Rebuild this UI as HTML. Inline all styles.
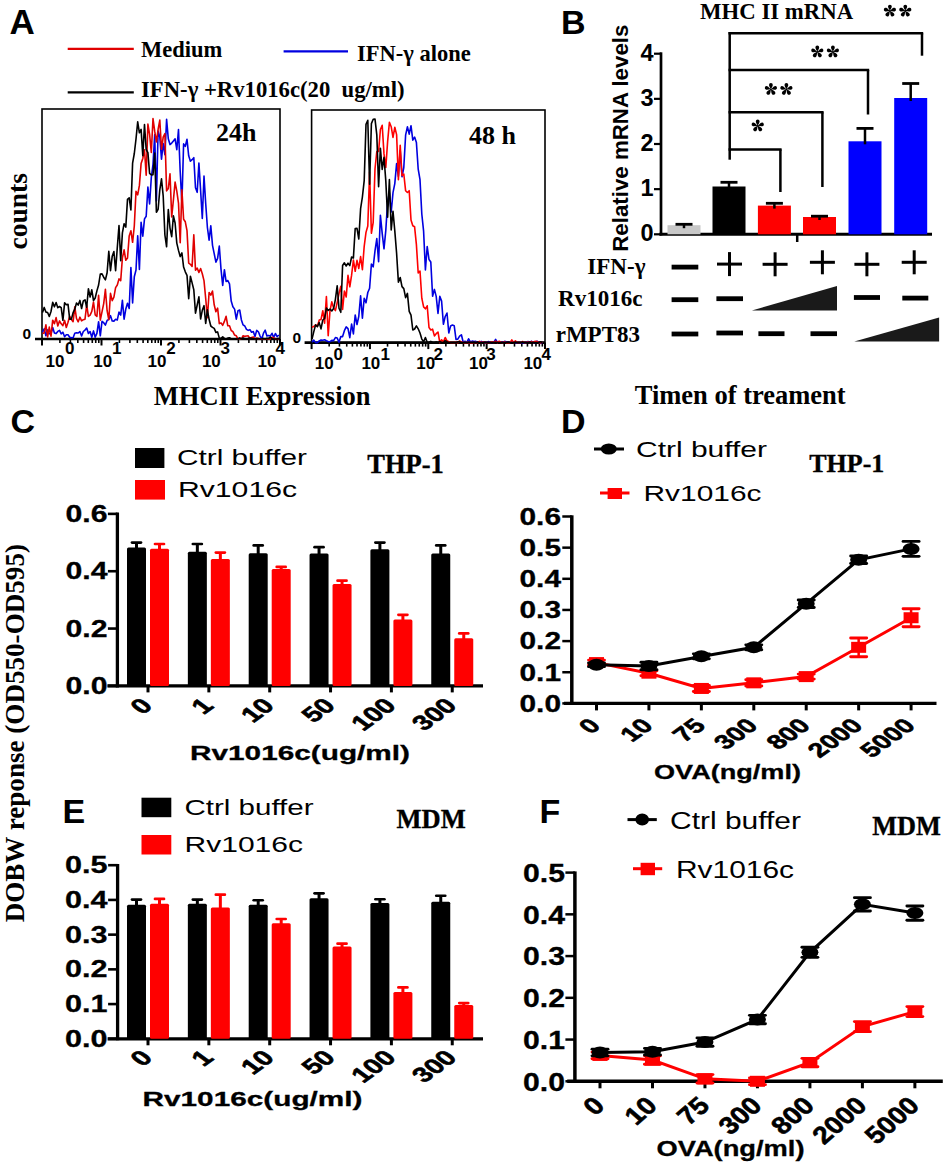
<!DOCTYPE html>
<html><head><meta charset="utf-8"><style>html,body{margin:0;padding:0;background:#fff;}svg{display:block;}</style></head>
<body><svg width="945" height="1168" viewBox="0 0 945 1168">
<rect width="945" height="1168" fill="#fff"/>
<text x="9.5" y="34" font-family="'Liberation Sans', sans-serif" font-size="35" font-weight="bold" text-anchor="start" fill="#000">A</text>
<line x1="67.7" y1="48.8" x2="133.8" y2="48.8" stroke="#e00000" stroke-width="2.2" stroke-linecap="butt"/>
<text x="141" y="56.7" font-family="'Liberation Serif', serif" font-size="22.5" font-weight="bold" text-anchor="start" fill="#000">Medium</text>
<line x1="283.6" y1="51.4" x2="348" y2="51.4" stroke="#0000e0" stroke-width="2.2" stroke-linecap="butt"/>
<text x="357" y="61" font-family="'Liberation Serif', serif" font-size="22.5" font-weight="bold" text-anchor="start" fill="#000">IFN-γ alone</text>
<line x1="67.7" y1="92.3" x2="133.8" y2="92.3" stroke="#000" stroke-width="2.2" stroke-linecap="butt"/>
<text x="141" y="96.8" font-family="'Liberation Serif', serif" font-size="22.7" font-weight="bold" text-anchor="start" fill="#000">IFN-γ +Rv1016c(20&#160; ug/ml)</text>
<rect x="42" y="109" width="238" height="230" fill="none" stroke="#000" stroke-width="1.6"/>
<line x1="35" y1="339" x2="280" y2="339" stroke="#000" stroke-width="2.6" stroke-linecap="butt"/>
<line x1="42.0" y1="339" x2="42.0" y2="345.5" stroke="#000" stroke-width="2" stroke-linecap="butt"/>
<line x1="59.911284742006885" y1="339" x2="59.911284742006885" y2="343" stroke="#000" stroke-width="1.6" stroke-linecap="butt"/>
<line x1="70.38871465581991" y1="339" x2="70.38871465581991" y2="343" stroke="#000" stroke-width="1.6" stroke-linecap="butt"/>
<line x1="77.82256948401377" y1="339" x2="77.82256948401377" y2="343" stroke="#000" stroke-width="1.6" stroke-linecap="butt"/>
<line x1="83.58871525799313" y1="339" x2="83.58871525799313" y2="343" stroke="#000" stroke-width="1.6" stroke-linecap="butt"/>
<line x1="88.2999993978268" y1="339" x2="88.2999993978268" y2="343" stroke="#000" stroke-width="1.6" stroke-linecap="butt"/>
<line x1="92.28333338084829" y1="339" x2="92.28333338084829" y2="343" stroke="#000" stroke-width="1.6" stroke-linecap="butt"/>
<line x1="95.73385422602064" y1="339" x2="95.73385422602064" y2="343" stroke="#000" stroke-width="1.6" stroke-linecap="butt"/>
<line x1="98.77742931163982" y1="339" x2="98.77742931163982" y2="343" stroke="#000" stroke-width="1.6" stroke-linecap="butt"/>
<line x1="101.5" y1="339" x2="101.5" y2="345.5" stroke="#000" stroke-width="2" stroke-linecap="butt"/>
<line x1="119.41128474200688" y1="339" x2="119.41128474200688" y2="343" stroke="#000" stroke-width="1.6" stroke-linecap="butt"/>
<line x1="129.8887146558199" y1="339" x2="129.8887146558199" y2="343" stroke="#000" stroke-width="1.6" stroke-linecap="butt"/>
<line x1="137.32256948401377" y1="339" x2="137.32256948401377" y2="343" stroke="#000" stroke-width="1.6" stroke-linecap="butt"/>
<line x1="143.0887152579931" y1="339" x2="143.0887152579931" y2="343" stroke="#000" stroke-width="1.6" stroke-linecap="butt"/>
<line x1="147.7999993978268" y1="339" x2="147.7999993978268" y2="343" stroke="#000" stroke-width="1.6" stroke-linecap="butt"/>
<line x1="151.7833333808483" y1="339" x2="151.7833333808483" y2="343" stroke="#000" stroke-width="1.6" stroke-linecap="butt"/>
<line x1="155.23385422602064" y1="339" x2="155.23385422602064" y2="343" stroke="#000" stroke-width="1.6" stroke-linecap="butt"/>
<line x1="158.27742931163982" y1="339" x2="158.27742931163982" y2="343" stroke="#000" stroke-width="1.6" stroke-linecap="butt"/>
<line x1="161.0" y1="339" x2="161.0" y2="345.5" stroke="#000" stroke-width="2" stroke-linecap="butt"/>
<line x1="178.9112847420069" y1="339" x2="178.9112847420069" y2="343" stroke="#000" stroke-width="1.6" stroke-linecap="butt"/>
<line x1="189.3887146558199" y1="339" x2="189.3887146558199" y2="343" stroke="#000" stroke-width="1.6" stroke-linecap="butt"/>
<line x1="196.82256948401377" y1="339" x2="196.82256948401377" y2="343" stroke="#000" stroke-width="1.6" stroke-linecap="butt"/>
<line x1="202.5887152579931" y1="339" x2="202.5887152579931" y2="343" stroke="#000" stroke-width="1.6" stroke-linecap="butt"/>
<line x1="207.2999993978268" y1="339" x2="207.2999993978268" y2="343" stroke="#000" stroke-width="1.6" stroke-linecap="butt"/>
<line x1="211.2833333808483" y1="339" x2="211.2833333808483" y2="343" stroke="#000" stroke-width="1.6" stroke-linecap="butt"/>
<line x1="214.73385422602064" y1="339" x2="214.73385422602064" y2="343" stroke="#000" stroke-width="1.6" stroke-linecap="butt"/>
<line x1="217.77742931163982" y1="339" x2="217.77742931163982" y2="343" stroke="#000" stroke-width="1.6" stroke-linecap="butt"/>
<line x1="220.5" y1="339" x2="220.5" y2="345.5" stroke="#000" stroke-width="2" stroke-linecap="butt"/>
<line x1="238.4112847420069" y1="339" x2="238.4112847420069" y2="343" stroke="#000" stroke-width="1.6" stroke-linecap="butt"/>
<line x1="248.8887146558199" y1="339" x2="248.8887146558199" y2="343" stroke="#000" stroke-width="1.6" stroke-linecap="butt"/>
<line x1="256.3225694840138" y1="339" x2="256.3225694840138" y2="343" stroke="#000" stroke-width="1.6" stroke-linecap="butt"/>
<line x1="262.0887152579931" y1="339" x2="262.0887152579931" y2="343" stroke="#000" stroke-width="1.6" stroke-linecap="butt"/>
<line x1="266.7999993978268" y1="339" x2="266.7999993978268" y2="343" stroke="#000" stroke-width="1.6" stroke-linecap="butt"/>
<line x1="270.78333338084826" y1="339" x2="270.78333338084826" y2="343" stroke="#000" stroke-width="1.6" stroke-linecap="butt"/>
<line x1="274.23385422602064" y1="339" x2="274.23385422602064" y2="343" stroke="#000" stroke-width="1.6" stroke-linecap="butt"/>
<line x1="277.2774293116398" y1="339" x2="277.2774293116398" y2="343" stroke="#000" stroke-width="1.6" stroke-linecap="butt"/>
<line x1="280" y1="339" x2="280" y2="345.5" stroke="#000" stroke-width="2" stroke-linecap="butt"/>
<text x="45.6" y="366.6" font-family="'Liberation Sans', sans-serif" font-size="17" font-weight="bold" text-anchor="start" fill="#000">10</text>
<text x="64.9" y="354" font-family="'Liberation Sans', sans-serif" font-size="17" font-weight="bold" text-anchor="start" fill="#000">0</text>
<text x="93.3" y="366.6" font-family="'Liberation Sans', sans-serif" font-size="17" font-weight="bold" text-anchor="start" fill="#000">10</text>
<text x="112.1" y="354" font-family="'Liberation Sans', sans-serif" font-size="17" font-weight="bold" text-anchor="start" fill="#000">1</text>
<text x="147.6" y="366.6" font-family="'Liberation Sans', sans-serif" font-size="17" font-weight="bold" text-anchor="start" fill="#000">10</text>
<text x="166.2" y="354" font-family="'Liberation Sans', sans-serif" font-size="17" font-weight="bold" text-anchor="start" fill="#000">2</text>
<text x="201.9" y="366.6" font-family="'Liberation Sans', sans-serif" font-size="17" font-weight="bold" text-anchor="start" fill="#000">10</text>
<text x="220.6" y="354" font-family="'Liberation Sans', sans-serif" font-size="17" font-weight="bold" text-anchor="start" fill="#000">3</text>
<text x="257.6" y="366.6" font-family="'Liberation Sans', sans-serif" font-size="17" font-weight="bold" text-anchor="start" fill="#000">10</text>
<text x="275.5" y="354" font-family="'Liberation Sans', sans-serif" font-size="17" font-weight="bold" text-anchor="start" fill="#000">4</text>
<text x="22.5" y="338.8" font-family="'Liberation Sans', sans-serif" font-size="15.5" font-weight="bold" text-anchor="start" fill="#000">0</text>
<polyline points="42.5,332.3 44.2,328.8 45.9,335.7 47.6,329.9 49.3,333.8 51.0,333.9 52.7,327.6 54.4,332.9 56.1,333.6 57.8,331.4 59.5,330.4 61.2,333.9 62.9,332.2 64.6,336.7 66.3,334.8 68.0,334.8 69.7,337.3 71.4,337.6 73.1,337.8 74.8,333.3 76.5,332.8 78.2,333.0 79.9,331.5 81.6,336.0 83.3,331.5 85.0,330.1 86.7,328.0 88.4,333.5 90.1,331.6 91.8,337.3 93.5,330.9 95.2,337.2 96.9,333.4 98.6,321.7 100.3,335.8 102.0,321.3 103.7,322.7 105.4,325.1 107.1,320.4 108.8,319.3 110.5,315.7 112.2,320.9 113.9,321.1 115.6,319.3 117.3,319.9 119.0,312.1 120.7,315.1 122.4,300.4 124.1,319.2 125.8,309.0 127.5,303.2 129.2,308.4 130.9,267.5 132.6,302.9 134.3,276.7 136.0,270.0 137.7,235.9 139.4,269.4 141.1,222.3 142.8,236.1 144.5,218.9 146.2,216.3 147.9,187.0 149.6,204.0 151.3,177.6 153.0,164.3 154.7,134.6 156.4,201.0 158.1,131.0 159.8,137.0 161.5,159.2 163.2,143.5 164.9,154.6 166.6,119.4 168.3,138.8 170.0,144.6 171.7,143.1 173.4,140.9 175.1,138.8 176.8,149.7 178.5,129.5 180.2,171.5 181.9,203.3 183.6,143.9 185.3,146.3 187.0,139.3 188.7,155.8 190.4,161.2 192.1,159.7 193.8,157.7 195.5,187.8 197.2,192.3 198.9,163.0 200.6,190.4 202.3,218.4 204.0,176.1 205.7,203.5 207.4,227.5 209.1,240.2 210.8,225.7 212.5,245.3 214.2,253.7 215.9,262.1 217.6,258.4 219.3,246.1 221.0,269.1 222.7,285.4 224.4,269.7 226.1,281.5 227.8,280.5 229.5,283.8 231.2,301.1 232.9,306.7 234.6,309.1 236.3,319.2 238.0,310.7 239.7,310.0 241.4,319.9 243.1,324.9 244.8,326.0 246.5,329.4 248.2,330.4 249.9,329.6 251.6,332.3 253.3,331.6 255.0,336.6 256.7,330.4 258.4,331.8 260.1,336.1 261.8,339.0 263.5,333.1 265.2,330.2 266.9,335.9 268.6,335.5 270.3,336.1 272.0,333.3 273.7,337.5 275.4,333.5 277.1,336.7 278.8,335.0" fill="none" stroke="#0000e0" stroke-width="1.6" stroke-linejoin="round"/>
<polyline points="42.5,333.5 44.2,332.9 45.9,324.8 47.6,337.0 49.3,327.1 51.0,336.1 52.7,320.2 54.4,323.7 56.1,317.6 57.8,326.0 59.5,320.9 61.2,323.8 62.9,325.6 64.6,320.4 66.3,327.5 68.0,322.3 69.7,316.3 71.4,319.5 73.1,321.7 74.8,306.9 76.5,318.5 78.2,321.8 79.9,317.2 81.6,320.8 83.3,319.7 85.0,319.2 86.7,304.9 88.4,316.4 90.1,315.1 91.8,311.4 93.5,302.0 95.2,314.9 96.9,316.5 98.6,295.2 100.3,320.2 102.0,311.9 103.7,303.6 105.4,289.4 107.1,310.5 108.8,319.8 110.5,293.4 112.2,300.6 113.9,297.2 115.6,287.6 117.3,285.0 119.0,278.9 120.7,280.7 122.4,257.9 124.1,249.8 125.8,260.3 127.5,258.1 129.2,235.9 130.9,230.7 132.6,242.3 134.3,226.0 136.0,191.4 137.7,194.8 139.4,185.4 141.1,163.6 142.8,158.4 144.5,149.7 146.2,175.3 147.9,124.1 149.6,134.3 151.3,152.5 153.0,118.6 154.7,131.2 156.4,141.9 158.1,129.5 159.8,120.1 161.5,149.3 163.2,137.2 164.9,133.6 166.6,190.9 168.3,188.5 170.0,173.8 171.7,216.9 173.4,200.0 175.1,182.1 176.8,191.2 178.5,203.1 180.2,242.6 181.9,189.7 183.6,219.3 185.3,221.8 187.0,230.6 188.7,263.1 190.4,264.3 192.1,266.4 193.8,234.9 195.5,270.3 197.2,268.1 198.9,272.5 200.6,268.6 202.3,273.8 204.0,280.6 205.7,298.5 207.4,317.8 209.1,292.5 210.8,295.1 212.5,291.1 214.2,304.8 215.9,311.7 217.6,308.1 219.3,323.6 221.0,322.9 222.7,325.3 224.4,321.4 226.1,316.3 227.8,325.8 229.5,325.8 231.2,330.5 232.9,331.7 234.6,335.1 236.3,335.8 238.0,339.0 239.7,339.0 241.4,339.0 243.1,335.7 244.8,336.4 246.5,336.0 248.2,335.9 249.9,338.5 251.6,337.4 253.3,336.9 255.0,338.9 256.7,338.0 258.4,339.0 260.1,339.0 261.8,338.9 263.5,339.0 265.2,338.9 266.9,339.0 268.6,338.7 270.3,339.0 272.0,337.2 273.7,337.8 275.4,339.0 277.1,339.0 278.8,339.0" fill="none" stroke="#e00000" stroke-width="1.6" stroke-linejoin="round"/>
<polyline points="42.5,312.6 44.2,307.4 45.9,312.1 47.6,312.5 49.3,316.5 51.0,311.5 52.7,302.4 54.4,306.8 56.1,302.5 57.8,307.7 59.5,306.5 61.2,307.7 62.9,320.3 64.6,302.8 66.3,304.7 68.0,304.2 69.7,319.1 71.4,319.1 73.1,312.6 74.8,309.1 76.5,303.0 78.2,305.1 79.9,300.4 81.6,308.5 83.3,300.9 85.0,299.8 86.7,307.3 88.4,288.7 90.1,297.0 91.8,289.8 93.5,300.5 95.2,298.0 96.9,290.9 98.6,285.0 100.3,274.1 102.0,273.9 103.7,277.2 105.4,279.9 107.1,272.8 108.8,251.3 110.5,270.7 112.2,256.3 113.9,251.5 115.6,270.8 117.3,247.5 119.0,225.5 120.7,260.8 122.4,232.9 124.1,223.7 125.8,227.1 127.5,199.4 129.2,197.9 130.9,209.9 132.6,163.1 134.3,153.5 136.0,139.0 137.7,121.9 139.4,132.8 141.1,129.4 142.8,155.6 144.5,124.5 146.2,149.5 147.9,152.6 149.6,173.4 151.3,174.9 153.0,174.6 154.7,153.0 156.4,212.3 158.1,209.4 159.8,189.9 161.5,178.8 163.2,196.0 164.9,235.0 166.6,246.8 168.3,209.6 170.0,228.1 171.7,236.6 173.4,215.9 175.1,223.0 176.8,243.1 178.5,250.4 180.2,256.6 181.9,252.9 183.6,267.1 185.3,271.8 187.0,275.3 188.7,298.6 190.4,276.2 192.1,282.9 193.8,289.7 195.5,313.1 197.2,305.0 198.9,296.8 200.6,319.0 202.3,310.3 204.0,305.7 205.7,323.5 207.4,309.8 209.1,319.3 210.8,326.0 212.5,327.3 214.2,328.4 215.9,332.4 217.6,331.9 219.3,338.1 221.0,338.4 222.7,336.9 224.4,338.4 226.1,339.0 227.8,338.1 229.5,337.7 231.2,339.0 232.9,339.0 234.6,339.0 236.3,339.0 238.0,339.0 239.7,337.8 241.4,339.0 243.1,337.9 244.8,339.0 246.5,339.0 248.2,338.4 249.9,338.0 251.6,338.2 253.3,338.7 255.0,338.9 256.7,338.9 258.4,338.5 260.1,339.0 261.8,338.8 263.5,338.5 265.2,339.0 266.9,338.3 268.6,338.5 270.3,337.2 272.0,338.7 273.7,339.0 275.4,339.0 277.1,339.0 278.8,338.2" fill="none" stroke="#000" stroke-width="1.6" stroke-linejoin="round"/>
<text x="216" y="141" font-family="'Liberation Serif', serif" font-size="26" font-weight="bold" text-anchor="start" fill="#000">24h</text>
<rect x="311.6" y="110" width="233.39999999999998" height="232.60000000000002" fill="none" stroke="#000" stroke-width="1.6"/>
<line x1="304.6" y1="342.6" x2="545" y2="342.6" stroke="#000" stroke-width="2.6" stroke-linecap="butt"/>
<line x1="311.6" y1="342.6" x2="311.6" y2="349.1" stroke="#000" stroke-width="2" stroke-linecap="butt"/>
<line x1="329.16510024699335" y1="342.6" x2="329.16510024699335" y2="346.6" stroke="#000" stroke-width="1.6" stroke-linecap="butt"/>
<line x1="339.44002521289235" y1="342.6" x2="339.44002521289235" y2="346.6" stroke="#000" stroke-width="1.6" stroke-linecap="butt"/>
<line x1="346.7302004939866" y1="342.6" x2="346.7302004939866" y2="346.6" stroke="#000" stroke-width="1.6" stroke-linecap="butt"/>
<line x1="352.3848997530067" y1="342.6" x2="352.3848997530067" y2="346.6" stroke="#000" stroke-width="1.6" stroke-linecap="butt"/>
<line x1="357.0051254598856" y1="342.6" x2="357.0051254598856" y2="346.6" stroke="#000" stroke-width="1.6" stroke-linecap="butt"/>
<line x1="360.9114706348319" y1="342.6" x2="360.9114706348319" y2="346.6" stroke="#000" stroke-width="1.6" stroke-linecap="butt"/>
<line x1="364.29530074097994" y1="342.6" x2="364.29530074097994" y2="346.6" stroke="#000" stroke-width="1.6" stroke-linecap="butt"/>
<line x1="367.2800504257846" y1="342.6" x2="367.2800504257846" y2="346.6" stroke="#000" stroke-width="1.6" stroke-linecap="butt"/>
<line x1="369.95000000000005" y1="342.6" x2="369.95000000000005" y2="349.1" stroke="#000" stroke-width="2" stroke-linecap="butt"/>
<line x1="387.5151002469933" y1="342.6" x2="387.5151002469933" y2="346.6" stroke="#000" stroke-width="1.6" stroke-linecap="butt"/>
<line x1="397.7900252128923" y1="342.6" x2="397.7900252128923" y2="346.6" stroke="#000" stroke-width="1.6" stroke-linecap="butt"/>
<line x1="405.08020049398664" y1="342.6" x2="405.08020049398664" y2="346.6" stroke="#000" stroke-width="1.6" stroke-linecap="butt"/>
<line x1="410.7348997530067" y1="342.6" x2="410.7348997530067" y2="346.6" stroke="#000" stroke-width="1.6" stroke-linecap="butt"/>
<line x1="415.3551254598856" y1="342.6" x2="415.3551254598856" y2="346.6" stroke="#000" stroke-width="1.6" stroke-linecap="butt"/>
<line x1="419.2614706348319" y1="342.6" x2="419.2614706348319" y2="346.6" stroke="#000" stroke-width="1.6" stroke-linecap="butt"/>
<line x1="422.6453007409799" y1="342.6" x2="422.6453007409799" y2="346.6" stroke="#000" stroke-width="1.6" stroke-linecap="butt"/>
<line x1="425.6300504257846" y1="342.6" x2="425.6300504257846" y2="346.6" stroke="#000" stroke-width="1.6" stroke-linecap="butt"/>
<line x1="428.3" y1="342.6" x2="428.3" y2="349.1" stroke="#000" stroke-width="2" stroke-linecap="butt"/>
<line x1="445.8651002469933" y1="342.6" x2="445.8651002469933" y2="346.6" stroke="#000" stroke-width="1.6" stroke-linecap="butt"/>
<line x1="456.1400252128923" y1="342.6" x2="456.1400252128923" y2="346.6" stroke="#000" stroke-width="1.6" stroke-linecap="butt"/>
<line x1="463.4302004939866" y1="342.6" x2="463.4302004939866" y2="346.6" stroke="#000" stroke-width="1.6" stroke-linecap="butt"/>
<line x1="469.0848997530067" y1="342.6" x2="469.0848997530067" y2="346.6" stroke="#000" stroke-width="1.6" stroke-linecap="butt"/>
<line x1="473.7051254598856" y1="342.6" x2="473.7051254598856" y2="346.6" stroke="#000" stroke-width="1.6" stroke-linecap="butt"/>
<line x1="477.6114706348319" y1="342.6" x2="477.6114706348319" y2="346.6" stroke="#000" stroke-width="1.6" stroke-linecap="butt"/>
<line x1="480.9953007409799" y1="342.6" x2="480.9953007409799" y2="346.6" stroke="#000" stroke-width="1.6" stroke-linecap="butt"/>
<line x1="483.9800504257846" y1="342.6" x2="483.9800504257846" y2="346.6" stroke="#000" stroke-width="1.6" stroke-linecap="butt"/>
<line x1="486.65" y1="342.6" x2="486.65" y2="349.1" stroke="#000" stroke-width="2" stroke-linecap="butt"/>
<line x1="504.2151002469933" y1="342.6" x2="504.2151002469933" y2="346.6" stroke="#000" stroke-width="1.6" stroke-linecap="butt"/>
<line x1="514.4900252128923" y1="342.6" x2="514.4900252128923" y2="346.6" stroke="#000" stroke-width="1.6" stroke-linecap="butt"/>
<line x1="521.7802004939866" y1="342.6" x2="521.7802004939866" y2="346.6" stroke="#000" stroke-width="1.6" stroke-linecap="butt"/>
<line x1="527.4348997530067" y1="342.6" x2="527.4348997530067" y2="346.6" stroke="#000" stroke-width="1.6" stroke-linecap="butt"/>
<line x1="532.0551254598856" y1="342.6" x2="532.0551254598856" y2="346.6" stroke="#000" stroke-width="1.6" stroke-linecap="butt"/>
<line x1="535.9614706348319" y1="342.6" x2="535.9614706348319" y2="346.6" stroke="#000" stroke-width="1.6" stroke-linecap="butt"/>
<line x1="539.34530074098" y1="342.6" x2="539.34530074098" y2="346.6" stroke="#000" stroke-width="1.6" stroke-linecap="butt"/>
<line x1="542.3300504257846" y1="342.6" x2="542.3300504257846" y2="346.6" stroke="#000" stroke-width="1.6" stroke-linecap="butt"/>
<line x1="545" y1="342.6" x2="545" y2="349.1" stroke="#000" stroke-width="2" stroke-linecap="butt"/>
<text x="314.8" y="369.4" font-family="'Liberation Sans', sans-serif" font-size="17" font-weight="bold" text-anchor="start" fill="#000">10</text>
<text x="333.5" y="359.5" font-family="'Liberation Sans', sans-serif" font-size="17" font-weight="bold" text-anchor="start" fill="#000">0</text>
<text x="361.4" y="369.4" font-family="'Liberation Sans', sans-serif" font-size="17" font-weight="bold" text-anchor="start" fill="#000">10</text>
<text x="380.6" y="359.5" font-family="'Liberation Sans', sans-serif" font-size="17" font-weight="bold" text-anchor="start" fill="#000">1</text>
<text x="416.2" y="369.4" font-family="'Liberation Sans', sans-serif" font-size="17" font-weight="bold" text-anchor="start" fill="#000">10</text>
<text x="433.5" y="359.5" font-family="'Liberation Sans', sans-serif" font-size="17" font-weight="bold" text-anchor="start" fill="#000">2</text>
<text x="469.1" y="369.4" font-family="'Liberation Sans', sans-serif" font-size="17" font-weight="bold" text-anchor="start" fill="#000">10</text>
<text x="486.3" y="359.5" font-family="'Liberation Sans', sans-serif" font-size="17" font-weight="bold" text-anchor="start" fill="#000">3</text>
<text x="523.4" y="369.4" font-family="'Liberation Sans', sans-serif" font-size="17" font-weight="bold" text-anchor="start" fill="#000">10</text>
<text x="541.5" y="359.5" font-family="'Liberation Sans', sans-serif" font-size="17" font-weight="bold" text-anchor="start" fill="#000">4</text>
<text x="292.5" y="342.6" font-family="'Liberation Sans', sans-serif" font-size="15.5" font-weight="bold" text-anchor="start" fill="#000">0</text>
<polyline points="312.0,342.1 313.8,340.1 315.6,342.6 317.4,342.6 319.2,340.9 321.0,340.1 322.8,340.3 324.6,339.8 326.4,340.8 328.2,341.5 330.0,341.7 331.8,340.4 333.6,340.6 335.4,337.6 337.2,338.1 339.0,342.2 340.8,336.5 342.6,336.6 344.4,330.7 346.2,326.9 348.0,328.6 349.8,337.6 351.6,324.1 353.4,333.9 355.2,315.0 357.0,324.5 358.8,316.3 360.6,295.9 362.4,318.2 364.2,298.2 366.0,302.8 367.8,292.5 369.6,288.2 371.4,264.1 373.2,266.8 375.0,250.8 376.8,238.5 378.6,261.6 380.4,215.3 382.2,233.3 384.0,248.8 385.8,230.3 387.6,202.0 389.4,192.9 391.2,211.9 393.0,192.7 394.8,183.6 396.6,163.6 398.4,176.3 400.2,150.3 402.0,176.8 403.8,167.5 405.6,135.2 407.4,126.8 409.2,134.1 411.0,125.7 412.8,140.2 414.6,137.1 416.4,142.5 418.2,169.2 420.0,179.7 421.8,214.0 423.6,231.2 425.4,269.9 427.2,246.5 429.0,259.5 430.8,262.0 432.6,296.3 434.4,289.4 436.2,296.4 438.0,313.4 439.8,296.4 441.6,301.1 443.4,324.3 445.2,316.5 447.0,313.0 448.8,333.0 450.6,325.9 452.4,325.1 454.2,325.7 456.0,339.4 457.8,339.2 459.6,336.2 461.4,334.8 463.2,342.2 465.0,341.3 466.8,342.4 468.6,338.8 470.4,342.0 472.2,341.1 474.0,341.6 475.8,341.4 477.6,342.1 479.4,342.2 481.2,341.4 483.0,342.0 484.8,342.6 486.6,342.6 488.4,341.6 490.2,342.4 492.0,342.6 493.8,342.3 495.6,339.4 497.4,342.5 499.2,342.0 501.0,342.1 502.8,342.6 504.6,341.4 506.4,341.7 508.2,342.1 510.0,342.6 511.8,341.3 513.6,341.8 515.4,342.6 517.2,342.6 519.0,342.5 520.8,342.6 522.6,342.6 524.4,342.6 526.2,342.6 528.0,341.5 529.8,342.4 531.6,341.3 533.4,342.6 535.2,342.6 537.0,341.2 538.8,342.2 540.6,342.6 542.4,342.6" fill="none" stroke="#0000e0" stroke-width="1.6" stroke-linejoin="round"/>
<polyline points="312.0,327.3 313.8,326.5 315.6,324.9 317.4,326.3 319.2,320.1 321.0,319.6 322.8,310.7 324.6,323.1 326.4,296.5 328.2,335.7 330.0,310.6 331.8,301.9 333.6,308.1 335.4,310.6 337.2,302.5 339.0,293.6 340.8,286.3 342.6,309.5 344.4,291.1 346.2,296.9 348.0,275.4 349.8,286.8 351.6,275.2 353.4,260.0 355.2,271.3 357.0,260.4 358.8,268.5 360.6,256.5 362.4,269.6 364.2,246.3 366.0,232.4 367.8,226.0 369.6,172.1 371.4,233.3 373.2,222.3 375.0,169.0 376.8,151.5 378.6,151.5 380.4,129.5 382.2,125.3 384.0,153.9 385.8,167.5 387.6,141.9 389.4,122.4 391.2,126.7 393.0,137.4 394.8,127.3 396.6,134.6 398.4,179.6 400.2,145.3 402.0,175.6 403.8,174.0 405.6,190.7 407.4,192.5 409.2,190.7 411.0,220.0 412.8,225.8 414.6,226.8 416.4,244.6 418.2,273.0 420.0,271.0 421.8,298.2 423.6,306.9 425.4,308.8 427.2,305.8 429.0,327.5 430.8,329.9 432.6,329.2 434.4,335.9 436.2,333.7 438.0,332.0 439.8,342.6 441.6,339.8 443.4,341.9 445.2,337.5 447.0,340.8 448.8,341.7 450.6,342.6 452.4,342.6 454.2,342.6 456.0,342.3 457.8,342.6 459.6,341.0 461.4,341.9 463.2,342.6 465.0,342.6 466.8,342.4 468.6,342.6 470.4,342.6 472.2,342.6 474.0,342.5 475.8,342.5 477.6,342.6 479.4,341.4 481.2,342.6 483.0,342.0 484.8,342.6 486.6,342.6 488.4,342.6 490.2,342.6 492.0,341.9 493.8,342.6 495.6,341.1 497.4,342.6 499.2,341.2 501.0,342.5 502.8,342.6 504.6,341.9 506.4,342.6 508.2,342.6 510.0,342.6 511.8,339.9 513.6,342.6 515.4,340.8 517.2,342.6 519.0,342.6 520.8,342.6 522.6,341.5 524.4,342.6 526.2,342.6 528.0,342.1 529.8,342.4 531.6,341.6 533.4,342.6 535.2,341.2 537.0,341.5 538.8,342.6 540.6,342.6 542.4,342.2" fill="none" stroke="#ff0000" stroke-width="1.6" stroke-linejoin="round"/>
<polyline points="312.0,339.1 313.8,331.6 315.6,324.9 317.4,326.7 319.2,322.6 321.0,328.9 322.8,320.0 324.6,318.5 326.4,308.1 328.2,310.4 330.0,309.1 331.8,310.9 333.6,308.6 335.4,299.3 337.2,285.7 339.0,308.2 340.8,312.3 342.6,265.5 344.4,262.8 346.2,266.0 348.0,263.1 349.8,265.6 351.6,257.0 353.4,258.0 355.2,228.5 357.0,228.3 358.8,239.0 360.6,208.6 362.4,197.0 364.2,180.7 366.0,124.4 367.8,120.3 369.6,184.2 371.4,123.6 373.2,119.3 375.0,119.1 376.8,134.8 378.6,186.6 380.4,148.4 382.2,169.4 384.0,157.3 385.8,180.9 387.6,217.3 389.4,179.5 391.2,230.0 393.0,211.2 394.8,230.9 396.6,253.3 398.4,282.1 400.2,277.5 402.0,286.6 403.8,288.6 405.6,297.7 407.4,293.4 409.2,311.3 411.0,315.2 412.8,330.0 414.6,329.0 416.4,325.9 418.2,328.8 420.0,333.0 421.8,339.1 423.6,341.8 425.4,337.6 427.2,342.2 429.0,342.5 430.8,341.3 432.6,342.5 434.4,342.6 436.2,341.9 438.0,342.6 439.8,341.5 441.6,342.6 443.4,342.6 445.2,340.6 447.0,341.6 448.8,342.5 450.6,342.6 452.4,342.6 454.2,342.6 456.0,342.6 457.8,341.9 459.6,341.6 461.4,342.6 463.2,342.6 465.0,342.3 466.8,342.6 468.6,342.2 470.4,342.2 472.2,342.3 474.0,342.1 475.8,342.6 477.6,342.0 479.4,342.6 481.2,342.5 483.0,342.6 484.8,342.3 486.6,342.6 488.4,342.4 490.2,342.6 492.0,342.6 493.8,342.6 495.6,342.3 497.4,342.5 499.2,342.6 501.0,342.6 502.8,342.6 504.6,342.6 506.4,342.3 508.2,342.0 510.0,342.6 511.8,342.6 513.6,342.6 515.4,342.0 517.2,342.6 519.0,342.6 520.8,342.6 522.6,341.9 524.4,342.6 526.2,342.6 528.0,342.6 529.8,342.1 531.6,342.6 533.4,342.5 535.2,342.6 537.0,342.6 538.8,342.6 540.6,341.8 542.4,342.6" fill="none" stroke="#000" stroke-width="1.6" stroke-linejoin="round"/>
<text x="469" y="143.6" font-family="'Liberation Serif', serif" font-size="26" font-weight="bold" text-anchor="start" fill="#000">48 h</text>
<text x="0" y="0" font-family="'Liberation Serif', serif" font-size="27.5" font-weight="bold" text-anchor="middle" fill="#000" transform="translate(27,211.3) rotate(-90)">counts</text>
<text x="153.8" y="405.4" font-family="'Liberation Serif', serif" font-size="26.5" font-weight="bold" text-anchor="start" fill="#000">MHCII Expression</text>
<text x="561" y="34" font-family="'Liberation Sans', sans-serif" font-size="34" font-weight="bold" text-anchor="start" fill="#000">B</text>
<text x="700" y="19.4" font-family="'Liberation Serif', serif" font-size="22.8" font-weight="bold" text-anchor="start" fill="#000">MHC II mRNA</text>
<text x="0" y="0" font-family="'Liberation Sans', sans-serif" font-size="22.3" font-weight="bold" text-anchor="middle" fill="#000" transform="translate(628,138.2) rotate(-90)">Relative mRNA levels</text>
<line x1="661" y1="52.3" x2="661" y2="235.5" stroke="#000" stroke-width="2.7" stroke-linecap="butt"/>
<line x1="654" y1="234.3" x2="661" y2="234.3" stroke="#000" stroke-width="2.2" stroke-linecap="butt"/>
<text x="653.5" y="241.3" font-family="'Liberation Sans', sans-serif" font-size="23.5" font-weight="bold" text-anchor="end" fill="#000">0</text>
<line x1="654" y1="189.15" x2="661" y2="189.15" stroke="#000" stroke-width="2.2" stroke-linecap="butt"/>
<text x="653.5" y="196.15" font-family="'Liberation Sans', sans-serif" font-size="23.5" font-weight="bold" text-anchor="end" fill="#000">1</text>
<line x1="654" y1="144.0" x2="661" y2="144.0" stroke="#000" stroke-width="2.2" stroke-linecap="butt"/>
<text x="653.5" y="151.0" font-family="'Liberation Sans', sans-serif" font-size="23.5" font-weight="bold" text-anchor="end" fill="#000">2</text>
<line x1="654" y1="98.85000000000002" x2="661" y2="98.85000000000002" stroke="#000" stroke-width="2.2" stroke-linecap="butt"/>
<text x="653.5" y="105.85000000000002" font-family="'Liberation Sans', sans-serif" font-size="23.5" font-weight="bold" text-anchor="end" fill="#000">3</text>
<line x1="654" y1="53.70000000000002" x2="661" y2="53.70000000000002" stroke="#000" stroke-width="2.2" stroke-linecap="butt"/>
<text x="653.5" y="60.70000000000002" font-family="'Liberation Sans', sans-serif" font-size="23.5" font-weight="bold" text-anchor="end" fill="#000">4</text>
<line x1="659.4" y1="234.3" x2="932" y2="234.3" stroke="#000" stroke-width="3" stroke-linecap="butt"/>
<line x1="797.2" y1="234.3" x2="797.2" y2="242" stroke="#000" stroke-width="2.5" stroke-linecap="butt"/>
<rect x="667.5" y="225.2" width="33" height="9.100000000000023" fill="#c8c8c8" rx="0"/>
<line x1="684" y1="224.3" x2="684" y2="228.2" stroke="#000" stroke-width="2.5" stroke-linecap="butt"/>
<line x1="675.5" y1="224.3" x2="692.5" y2="224.3" stroke="#000" stroke-width="2.8" stroke-linecap="butt"/>
<rect x="712.5" y="186.5" width="33" height="47.80000000000001" fill="#000" rx="0"/>
<line x1="729" y1="182.3" x2="729" y2="189.5" stroke="#000" stroke-width="2.5" stroke-linecap="butt"/>
<line x1="720.5" y1="182.3" x2="737.5" y2="182.3" stroke="#000" stroke-width="2.8" stroke-linecap="butt"/>
<rect x="757.9" y="205.6" width="33" height="28.700000000000017" fill="#ff0000" rx="0"/>
<line x1="774.4" y1="203.3" x2="774.4" y2="208.6" stroke="#000" stroke-width="2.5" stroke-linecap="butt"/>
<line x1="765.9" y1="203.3" x2="782.9" y2="203.3" stroke="#000" stroke-width="2.8" stroke-linecap="butt"/>
<rect x="803.0" y="217" width="33" height="17.30000000000001" fill="#ff0000" rx="0"/>
<line x1="819.5" y1="216.2" x2="819.5" y2="220" stroke="#000" stroke-width="2.5" stroke-linecap="butt"/>
<line x1="811.0" y1="216.2" x2="828.0" y2="216.2" stroke="#000" stroke-width="2.8" stroke-linecap="butt"/>
<rect x="848.5" y="141.3" width="33" height="93.0" fill="#0000ff" rx="0"/>
<line x1="865" y1="128.4" x2="865" y2="144.3" stroke="#000" stroke-width="2.5" stroke-linecap="butt"/>
<line x1="856.5" y1="128.4" x2="873.5" y2="128.4" stroke="#000" stroke-width="2.8" stroke-linecap="butt"/>
<rect x="894.2" y="98" width="33" height="136.3" fill="#0000ff" rx="0"/>
<line x1="910.7" y1="83.5" x2="910.7" y2="101" stroke="#000" stroke-width="2.5" stroke-linecap="butt"/>
<line x1="902.2" y1="83.5" x2="919.2" y2="83.5" stroke="#000" stroke-width="2.8" stroke-linecap="butt"/>
<line x1="729.7" y1="32" x2="729.7" y2="159.7" stroke="#000" stroke-width="2.5" stroke-linecap="butt"/>
<line x1="728.5" y1="33.2" x2="923.2" y2="33.2" stroke="#000" stroke-width="2.5" stroke-linecap="butt"/>
<line x1="922" y1="33.2" x2="922" y2="55.7" stroke="#000" stroke-width="2.5" stroke-linecap="butt"/>
<line x1="728.5" y1="70" x2="869.2" y2="70" stroke="#000" stroke-width="2.5" stroke-linecap="butt"/>
<line x1="868" y1="70" x2="868" y2="114.5" stroke="#000" stroke-width="2.5" stroke-linecap="butt"/>
<line x1="728.5" y1="112.3" x2="823.6" y2="112.3" stroke="#000" stroke-width="2.5" stroke-linecap="butt"/>
<line x1="822.4" y1="112.3" x2="822.4" y2="187" stroke="#000" stroke-width="2.5" stroke-linecap="butt"/>
<line x1="728.5" y1="149.4" x2="781.6" y2="149.4" stroke="#000" stroke-width="2.5" stroke-linecap="butt"/>
<line x1="780.4" y1="149.4" x2="780.4" y2="192" stroke="#000" stroke-width="2.5" stroke-linecap="butt"/>
<g transform="translate(757.7,125.8) scale(1.0)" fill="#000"><path d="M0,0 C-0.5,-1.4 -1.9,-3.0 -1.9,-4.4 A1.9,1.9 0 0 1 1.9,-4.4 C1.9,-3.0 0.5,-1.4 0,0Z" transform="rotate(0)"/><path d="M0,0 C-0.5,-1.4 -1.9,-3.0 -1.9,-4.4 A1.9,1.9 0 0 1 1.9,-4.4 C1.9,-3.0 0.5,-1.4 0,0Z" transform="rotate(72)"/><path d="M0,0 C-0.5,-1.4 -1.9,-3.0 -1.9,-4.4 A1.9,1.9 0 0 1 1.9,-4.4 C1.9,-3.0 0.5,-1.4 0,0Z" transform="rotate(144)"/><path d="M0,0 C-0.5,-1.4 -1.9,-3.0 -1.9,-4.4 A1.9,1.9 0 0 1 1.9,-4.4 C1.9,-3.0 0.5,-1.4 0,0Z" transform="rotate(216)"/><path d="M0,0 C-0.5,-1.4 -1.9,-3.0 -1.9,-4.4 A1.9,1.9 0 0 1 1.9,-4.4 C1.9,-3.0 0.5,-1.4 0,0Z" transform="rotate(288)"/><circle r="0.9"/></g>
<g transform="translate(770.9,89.3) scale(1.0)" fill="#000"><path d="M0,0 C-0.5,-1.4 -1.9,-3.0 -1.9,-4.4 A1.9,1.9 0 0 1 1.9,-4.4 C1.9,-3.0 0.5,-1.4 0,0Z" transform="rotate(0)"/><path d="M0,0 C-0.5,-1.4 -1.9,-3.0 -1.9,-4.4 A1.9,1.9 0 0 1 1.9,-4.4 C1.9,-3.0 0.5,-1.4 0,0Z" transform="rotate(72)"/><path d="M0,0 C-0.5,-1.4 -1.9,-3.0 -1.9,-4.4 A1.9,1.9 0 0 1 1.9,-4.4 C1.9,-3.0 0.5,-1.4 0,0Z" transform="rotate(144)"/><path d="M0,0 C-0.5,-1.4 -1.9,-3.0 -1.9,-4.4 A1.9,1.9 0 0 1 1.9,-4.4 C1.9,-3.0 0.5,-1.4 0,0Z" transform="rotate(216)"/><path d="M0,0 C-0.5,-1.4 -1.9,-3.0 -1.9,-4.4 A1.9,1.9 0 0 1 1.9,-4.4 C1.9,-3.0 0.5,-1.4 0,0Z" transform="rotate(288)"/><circle r="0.9"/></g>
<g transform="translate(786.4,89.3) scale(1.0)" fill="#000"><path d="M0,0 C-0.5,-1.4 -1.9,-3.0 -1.9,-4.4 A1.9,1.9 0 0 1 1.9,-4.4 C1.9,-3.0 0.5,-1.4 0,0Z" transform="rotate(0)"/><path d="M0,0 C-0.5,-1.4 -1.9,-3.0 -1.9,-4.4 A1.9,1.9 0 0 1 1.9,-4.4 C1.9,-3.0 0.5,-1.4 0,0Z" transform="rotate(72)"/><path d="M0,0 C-0.5,-1.4 -1.9,-3.0 -1.9,-4.4 A1.9,1.9 0 0 1 1.9,-4.4 C1.9,-3.0 0.5,-1.4 0,0Z" transform="rotate(144)"/><path d="M0,0 C-0.5,-1.4 -1.9,-3.0 -1.9,-4.4 A1.9,1.9 0 0 1 1.9,-4.4 C1.9,-3.0 0.5,-1.4 0,0Z" transform="rotate(216)"/><path d="M0,0 C-0.5,-1.4 -1.9,-3.0 -1.9,-4.4 A1.9,1.9 0 0 1 1.9,-4.4 C1.9,-3.0 0.5,-1.4 0,0Z" transform="rotate(288)"/><circle r="0.9"/></g>
<g transform="translate(817.3,51.8) scale(1.0)" fill="#000"><path d="M0,0 C-0.5,-1.4 -1.9,-3.0 -1.9,-4.4 A1.9,1.9 0 0 1 1.9,-4.4 C1.9,-3.0 0.5,-1.4 0,0Z" transform="rotate(0)"/><path d="M0,0 C-0.5,-1.4 -1.9,-3.0 -1.9,-4.4 A1.9,1.9 0 0 1 1.9,-4.4 C1.9,-3.0 0.5,-1.4 0,0Z" transform="rotate(72)"/><path d="M0,0 C-0.5,-1.4 -1.9,-3.0 -1.9,-4.4 A1.9,1.9 0 0 1 1.9,-4.4 C1.9,-3.0 0.5,-1.4 0,0Z" transform="rotate(144)"/><path d="M0,0 C-0.5,-1.4 -1.9,-3.0 -1.9,-4.4 A1.9,1.9 0 0 1 1.9,-4.4 C1.9,-3.0 0.5,-1.4 0,0Z" transform="rotate(216)"/><path d="M0,0 C-0.5,-1.4 -1.9,-3.0 -1.9,-4.4 A1.9,1.9 0 0 1 1.9,-4.4 C1.9,-3.0 0.5,-1.4 0,0Z" transform="rotate(288)"/><circle r="0.9"/></g>
<g transform="translate(832.9,51.8) scale(1.0)" fill="#000"><path d="M0,0 C-0.5,-1.4 -1.9,-3.0 -1.9,-4.4 A1.9,1.9 0 0 1 1.9,-4.4 C1.9,-3.0 0.5,-1.4 0,0Z" transform="rotate(0)"/><path d="M0,0 C-0.5,-1.4 -1.9,-3.0 -1.9,-4.4 A1.9,1.9 0 0 1 1.9,-4.4 C1.9,-3.0 0.5,-1.4 0,0Z" transform="rotate(72)"/><path d="M0,0 C-0.5,-1.4 -1.9,-3.0 -1.9,-4.4 A1.9,1.9 0 0 1 1.9,-4.4 C1.9,-3.0 0.5,-1.4 0,0Z" transform="rotate(144)"/><path d="M0,0 C-0.5,-1.4 -1.9,-3.0 -1.9,-4.4 A1.9,1.9 0 0 1 1.9,-4.4 C1.9,-3.0 0.5,-1.4 0,0Z" transform="rotate(216)"/><path d="M0,0 C-0.5,-1.4 -1.9,-3.0 -1.9,-4.4 A1.9,1.9 0 0 1 1.9,-4.4 C1.9,-3.0 0.5,-1.4 0,0Z" transform="rotate(288)"/><circle r="0.9"/></g>
<g transform="translate(889.9,11) scale(1.0)" fill="#000"><path d="M0,0 C-0.5,-1.4 -1.9,-3.0 -1.9,-4.4 A1.9,1.9 0 0 1 1.9,-4.4 C1.9,-3.0 0.5,-1.4 0,0Z" transform="rotate(0)"/><path d="M0,0 C-0.5,-1.4 -1.9,-3.0 -1.9,-4.4 A1.9,1.9 0 0 1 1.9,-4.4 C1.9,-3.0 0.5,-1.4 0,0Z" transform="rotate(72)"/><path d="M0,0 C-0.5,-1.4 -1.9,-3.0 -1.9,-4.4 A1.9,1.9 0 0 1 1.9,-4.4 C1.9,-3.0 0.5,-1.4 0,0Z" transform="rotate(144)"/><path d="M0,0 C-0.5,-1.4 -1.9,-3.0 -1.9,-4.4 A1.9,1.9 0 0 1 1.9,-4.4 C1.9,-3.0 0.5,-1.4 0,0Z" transform="rotate(216)"/><path d="M0,0 C-0.5,-1.4 -1.9,-3.0 -1.9,-4.4 A1.9,1.9 0 0 1 1.9,-4.4 C1.9,-3.0 0.5,-1.4 0,0Z" transform="rotate(288)"/><circle r="0.9"/></g>
<g transform="translate(905.3,11) scale(1.0)" fill="#000"><path d="M0,0 C-0.5,-1.4 -1.9,-3.0 -1.9,-4.4 A1.9,1.9 0 0 1 1.9,-4.4 C1.9,-3.0 0.5,-1.4 0,0Z" transform="rotate(0)"/><path d="M0,0 C-0.5,-1.4 -1.9,-3.0 -1.9,-4.4 A1.9,1.9 0 0 1 1.9,-4.4 C1.9,-3.0 0.5,-1.4 0,0Z" transform="rotate(72)"/><path d="M0,0 C-0.5,-1.4 -1.9,-3.0 -1.9,-4.4 A1.9,1.9 0 0 1 1.9,-4.4 C1.9,-3.0 0.5,-1.4 0,0Z" transform="rotate(144)"/><path d="M0,0 C-0.5,-1.4 -1.9,-3.0 -1.9,-4.4 A1.9,1.9 0 0 1 1.9,-4.4 C1.9,-3.0 0.5,-1.4 0,0Z" transform="rotate(216)"/><path d="M0,0 C-0.5,-1.4 -1.9,-3.0 -1.9,-4.4 A1.9,1.9 0 0 1 1.9,-4.4 C1.9,-3.0 0.5,-1.4 0,0Z" transform="rotate(288)"/><circle r="0.9"/></g>
<text x="645.4" y="273.8" font-family="'Liberation Serif', serif" font-size="23" font-weight="bold" text-anchor="end" fill="#000">IFN-γ</text>
<text x="642.4" y="306" font-family="'Liberation Serif', serif" font-size="23" font-weight="bold" text-anchor="end" fill="#000">Rv1016c</text>
<text x="640" y="341.5" font-family="'Liberation Serif', serif" font-size="23" font-weight="bold" text-anchor="end" fill="#000">rMPT83</text>
<rect x="671.6" y="264.70000000000005" width="26.699999999999932" height="4.8" fill="#000" rx="0"/>
<line x1="717.0" y1="264.1" x2="742.0" y2="264.1" stroke="#000" stroke-width="3" stroke-linecap="butt"/>
<line x1="729.5" y1="252.10000000000002" x2="729.5" y2="276.1" stroke="#000" stroke-width="3" stroke-linecap="butt"/>
<line x1="762.6" y1="264.3" x2="787.6" y2="264.3" stroke="#000" stroke-width="3" stroke-linecap="butt"/>
<line x1="775.1" y1="252.3" x2="775.1" y2="276.3" stroke="#000" stroke-width="3" stroke-linecap="butt"/>
<line x1="809.9" y1="262.3" x2="834.9" y2="262.3" stroke="#000" stroke-width="3" stroke-linecap="butt"/>
<line x1="822.4" y1="250.3" x2="822.4" y2="274.3" stroke="#000" stroke-width="3" stroke-linecap="butt"/>
<line x1="854.4" y1="264.3" x2="879.4" y2="264.3" stroke="#000" stroke-width="3" stroke-linecap="butt"/>
<line x1="866.9" y1="252.3" x2="866.9" y2="276.3" stroke="#000" stroke-width="3" stroke-linecap="butt"/>
<line x1="901.7" y1="262.3" x2="926.7" y2="262.3" stroke="#000" stroke-width="3" stroke-linecap="butt"/>
<line x1="914.2" y1="250.3" x2="914.2" y2="274.3" stroke="#000" stroke-width="3" stroke-linecap="butt"/>
<rect x="671.6" y="297.3" width="26.699999999999932" height="4.8" fill="#000" rx="0"/>
<rect x="716.4" y="296.3" width="26.600000000000023" height="4.8" fill="#000" rx="0"/>
<rect x="853.9" y="295.1" width="26.100000000000023" height="4.8" fill="#000" rx="0"/>
<rect x="902.3" y="295.70000000000005" width="26.0" height="4.8" fill="#000" rx="0"/>
<rect x="671.6" y="331.6" width="26.699999999999932" height="4.8" fill="#000" rx="0"/>
<rect x="716.4" y="330.6" width="26.600000000000023" height="4.8" fill="#000" rx="0"/>
<rect x="758.4" y="331.3" width="26.100000000000023" height="4.8" fill="#000" rx="0"/>
<rect x="810.5" y="331.3" width="26.5" height="4.8" fill="#000" rx="0"/>
<polygon points="751.9,310.5 837,286 837,310.5" fill="#1a1a1a"/>
<polygon points="854.3,341.5 939.1,317.4 939.1,341.5" fill="#1a1a1a"/>
<text x="634.7" y="403.6" font-family="'Liberation Serif', serif" font-size="26.5" font-weight="bold" text-anchor="start" fill="#000">Timen of treament</text>
<text x="10.5" y="433" font-family="'Liberation Sans', sans-serif" font-size="34" font-weight="bold" text-anchor="start" fill="#000">C</text>
<rect x="135" y="448" width="29.4" height="20" fill="#000" rx="0"/>
<rect x="135" y="480" width="30" height="19.6" fill="#ff0000" rx="0"/>
<text x="177" y="465" font-family="'Liberation Sans', sans-serif" font-size="22" font-weight="normal" text-anchor="start" fill="#000" textLength="130" lengthAdjust="spacingAndGlyphs">Ctrl buffer</text>
<text x="178" y="496.7" font-family="'Liberation Sans', sans-serif" font-size="22" font-weight="normal" text-anchor="start" fill="#000" textLength="119" lengthAdjust="spacingAndGlyphs">Rv1016c</text>
<text x="367.3" y="472.5" font-family="'Liberation Serif', serif" font-size="26.5" font-weight="bold" text-anchor="start" fill="#000" stroke="#000" stroke-width="0.35">THP-1</text>
<line x1="117.4" y1="512.4" x2="117.4" y2="687.4" stroke="#000" stroke-width="3.3" stroke-linecap="butt"/>
<line x1="107.4" y1="685.9" x2="483" y2="685.9" stroke="#000" stroke-width="3.3" stroke-linecap="butt"/>
<line x1="107.9" y1="513.88" x2="117.4" y2="513.88" stroke="#000" stroke-width="2.6" stroke-linecap="butt"/>
<text x="65.5" y="521.88" font-family="'Liberation Sans', sans-serif" font-size="23" font-weight="bold" text-anchor="start" fill="#000" stroke="#000" stroke-width="0.3" textLength="42" lengthAdjust="spacingAndGlyphs">0.6</text>
<line x1="107.9" y1="571.22" x2="117.4" y2="571.22" stroke="#000" stroke-width="2.6" stroke-linecap="butt"/>
<text x="65.5" y="579.22" font-family="'Liberation Sans', sans-serif" font-size="23" font-weight="bold" text-anchor="start" fill="#000" stroke="#000" stroke-width="0.3" textLength="42" lengthAdjust="spacingAndGlyphs">0.4</text>
<line x1="107.9" y1="628.56" x2="117.4" y2="628.56" stroke="#000" stroke-width="2.6" stroke-linecap="butt"/>
<text x="65.5" y="636.56" font-family="'Liberation Sans', sans-serif" font-size="23" font-weight="bold" text-anchor="start" fill="#000" stroke="#000" stroke-width="0.3" textLength="42" lengthAdjust="spacingAndGlyphs">0.2</text>
<line x1="107.9" y1="685.9" x2="117.4" y2="685.9" stroke="#000" stroke-width="2.6" stroke-linecap="butt"/>
<text x="65.5" y="693.9" font-family="'Liberation Sans', sans-serif" font-size="23" font-weight="bold" text-anchor="start" fill="#000" stroke="#000" stroke-width="0.3" textLength="42" lengthAdjust="spacingAndGlyphs">0.0</text>
<rect x="127.0" y="547.4239" width="19" height="138.47609999999997" fill="#000" rx="1.5"/>
<line x1="136.5" y1="542.55" x2="136.5" y2="549.4239" stroke="#000" stroke-width="3" stroke-linecap="butt"/>
<line x1="132.0" y1="542.55" x2="141.0" y2="542.55" stroke="#000" stroke-width="2.7" stroke-linecap="round"/>
<rect x="150.0" y="548.8574" width="19" height="137.0426" fill="#ff0000" rx="1.5"/>
<line x1="159.5" y1="543.9835" x2="159.5" y2="550.8574" stroke="#ff0000" stroke-width="3" stroke-linecap="butt"/>
<line x1="155.0" y1="543.9835" x2="164.0" y2="543.9835" stroke="#ff0000" stroke-width="2.7" stroke-linecap="round"/>
<line x1="148.0" y1="685.9" x2="148.0" y2="692.4" stroke="#000" stroke-width="3" stroke-linecap="butt"/>
<rect x="187.85" y="551.7244" width="19" height="134.17560000000003" fill="#000" rx="1.5"/>
<line x1="197.35" y1="543.9834999999999" x2="197.35" y2="553.7244" stroke="#000" stroke-width="3" stroke-linecap="butt"/>
<line x1="192.85" y1="543.9834999999999" x2="201.85" y2="543.9834999999999" stroke="#000" stroke-width="2.7" stroke-linecap="round"/>
<rect x="210.85" y="558.8919" width="19" height="127.00810000000001" fill="#ff0000" rx="1.5"/>
<line x1="220.35" y1="552.5844999999999" x2="220.35" y2="560.8919" stroke="#ff0000" stroke-width="3" stroke-linecap="butt"/>
<line x1="215.85" y1="552.5844999999999" x2="224.85" y2="552.5844999999999" stroke="#ff0000" stroke-width="2.7" stroke-linecap="round"/>
<line x1="208.85" y1="685.9" x2="208.85" y2="692.4" stroke="#000" stroke-width="3" stroke-linecap="butt"/>
<rect x="248.7" y="553.1578999999999" width="19" height="132.74210000000005" fill="#000" rx="1.5"/>
<line x1="258.2" y1="545.4169999999999" x2="258.2" y2="555.1578999999999" stroke="#000" stroke-width="3" stroke-linecap="butt"/>
<line x1="253.7" y1="545.4169999999999" x2="262.7" y2="545.4169999999999" stroke="#000" stroke-width="2.7" stroke-linecap="round"/>
<rect x="271.7" y="568.9264" width="19" height="116.97360000000003" fill="#ff0000" rx="1.5"/>
<line x1="281.2" y1="566.9195" x2="281.2" y2="570.9264" stroke="#ff0000" stroke-width="3" stroke-linecap="butt"/>
<line x1="276.7" y1="566.9195" x2="285.7" y2="566.9195" stroke="#ff0000" stroke-width="2.7" stroke-linecap="round"/>
<line x1="269.7" y1="685.9" x2="269.7" y2="692.4" stroke="#000" stroke-width="3" stroke-linecap="butt"/>
<rect x="309.55" y="553.4446" width="19" height="132.45539999999994" fill="#000" rx="1.5"/>
<line x1="319.05" y1="547.1372" x2="319.05" y2="555.4446" stroke="#000" stroke-width="3" stroke-linecap="butt"/>
<line x1="314.55" y1="547.1372" x2="323.55" y2="547.1372" stroke="#000" stroke-width="2.7" stroke-linecap="round"/>
<rect x="332.55" y="584.1215" width="19" height="101.77850000000001" fill="#ff0000" rx="1.5"/>
<line x1="342.05" y1="580.6811" x2="342.05" y2="586.1215" stroke="#ff0000" stroke-width="3" stroke-linecap="butt"/>
<line x1="337.55" y1="580.6811" x2="346.55" y2="580.6811" stroke="#ff0000" stroke-width="2.7" stroke-linecap="round"/>
<line x1="330.55" y1="685.9" x2="330.55" y2="692.4" stroke="#000" stroke-width="3" stroke-linecap="butt"/>
<rect x="370.4" y="549.1441" width="19" height="136.7559" fill="#000" rx="1.5"/>
<line x1="379.9" y1="542.55" x2="379.9" y2="551.1441" stroke="#000" stroke-width="3" stroke-linecap="butt"/>
<line x1="375.4" y1="542.55" x2="384.4" y2="542.55" stroke="#000" stroke-width="2.7" stroke-linecap="round"/>
<rect x="393.4" y="619.3856" width="19" height="66.51440000000002" fill="#ff0000" rx="1.5"/>
<line x1="402.9" y1="614.7984" x2="402.9" y2="621.3856" stroke="#ff0000" stroke-width="3" stroke-linecap="butt"/>
<line x1="398.4" y1="614.7984" x2="407.4" y2="614.7984" stroke="#ff0000" stroke-width="2.7" stroke-linecap="round"/>
<line x1="391.4" y1="685.9" x2="391.4" y2="692.4" stroke="#000" stroke-width="3" stroke-linecap="butt"/>
<rect x="431.25" y="553.4446" width="19" height="132.45539999999994" fill="#000" rx="1.5"/>
<line x1="440.75" y1="545.4169999999999" x2="440.75" y2="555.4446" stroke="#000" stroke-width="3" stroke-linecap="butt"/>
<line x1="436.25" y1="545.4169999999999" x2="445.25" y2="545.4169999999999" stroke="#000" stroke-width="2.7" stroke-linecap="round"/>
<rect x="454.25" y="638.3077999999999" width="19" height="47.59220000000005" fill="#ff0000" rx="1.5"/>
<line x1="463.75" y1="633.4339" x2="463.75" y2="640.3077999999999" stroke="#ff0000" stroke-width="3" stroke-linecap="butt"/>
<line x1="459.25" y1="633.4339" x2="468.25" y2="633.4339" stroke="#ff0000" stroke-width="2.7" stroke-linecap="round"/>
<line x1="452.25" y1="685.9" x2="452.25" y2="692.4" stroke="#000" stroke-width="3" stroke-linecap="butt"/>
<text x="190" y="760.4" font-family="'Liberation Sans', sans-serif" font-size="21" font-weight="bold" text-anchor="start" fill="#000" stroke="#000" stroke-width="0.3" textLength="220" lengthAdjust="spacingAndGlyphs">Rv1016c(ug/ml)</text>
<text x="0" y="0" font-family="'Liberation Sans', sans-serif" font-size="21" font-weight="bold" text-anchor="end" fill="#000" stroke="#000" stroke-width="0.6" transform="translate(154.0,707) scale(1.38,1) rotate(-45)">0</text>
<text x="0" y="0" font-family="'Liberation Sans', sans-serif" font-size="21" font-weight="bold" text-anchor="end" fill="#000" stroke="#000" stroke-width="0.6" transform="translate(214.85,707) scale(1.38,1) rotate(-45)">1</text>
<text x="0" y="0" font-family="'Liberation Sans', sans-serif" font-size="21" font-weight="bold" text-anchor="end" fill="#000" stroke="#000" stroke-width="0.6" transform="translate(275.7,707) scale(1.38,1) rotate(-45)">10</text>
<text x="0" y="0" font-family="'Liberation Sans', sans-serif" font-size="21" font-weight="bold" text-anchor="end" fill="#000" stroke="#000" stroke-width="0.6" transform="translate(336.55,707) scale(1.38,1) rotate(-45)">50</text>
<text x="0" y="0" font-family="'Liberation Sans', sans-serif" font-size="21" font-weight="bold" text-anchor="end" fill="#000" stroke="#000" stroke-width="0.6" transform="translate(397.4,707) scale(1.38,1) rotate(-45)">100</text>
<text x="0" y="0" font-family="'Liberation Sans', sans-serif" font-size="21" font-weight="bold" text-anchor="end" fill="#000" stroke="#000" stroke-width="0.6" transform="translate(458.25,707) scale(1.38,1) rotate(-45)">300</text>
<text x="62.5" y="822.8" font-family="'Liberation Sans', sans-serif" font-size="34" font-weight="bold" text-anchor="start" fill="#000">E</text>
<rect x="141.5" y="797.7" width="29.8" height="19.5" fill="#000" rx="0"/>
<rect x="141.5" y="835" width="29.8" height="19.5" fill="#ff0000" rx="0"/>
<text x="184.5" y="815" font-family="'Liberation Sans', sans-serif" font-size="22" font-weight="normal" text-anchor="start" fill="#000" textLength="129" lengthAdjust="spacingAndGlyphs">Ctrl buffer</text>
<text x="184.5" y="852.2" font-family="'Liberation Sans', sans-serif" font-size="22" font-weight="normal" text-anchor="start" fill="#000" textLength="118.5" lengthAdjust="spacingAndGlyphs">Rv1016c</text>
<text x="396.5" y="828" font-family="'Liberation Serif', serif" font-size="26.5" font-weight="bold" text-anchor="start" fill="#000" stroke="#000" stroke-width="0.35">MDM</text>
<line x1="117.6" y1="864.0" x2="117.6" y2="1040.3" stroke="#000" stroke-width="3.3" stroke-linecap="butt"/>
<line x1="107.6" y1="1038.8" x2="483" y2="1038.8" stroke="#000" stroke-width="3.3" stroke-linecap="butt"/>
<line x1="108.1" y1="865.1999999999999" x2="117.6" y2="865.1999999999999" stroke="#000" stroke-width="2.6" stroke-linecap="butt"/>
<text x="65" y="873.1999999999999" font-family="'Liberation Sans', sans-serif" font-size="23" font-weight="bold" text-anchor="start" fill="#000" stroke="#000" stroke-width="0.3" textLength="42.5" lengthAdjust="spacingAndGlyphs">0.5</text>
<line x1="108.1" y1="899.92" x2="117.6" y2="899.92" stroke="#000" stroke-width="2.6" stroke-linecap="butt"/>
<text x="65" y="907.92" font-family="'Liberation Sans', sans-serif" font-size="23" font-weight="bold" text-anchor="start" fill="#000" stroke="#000" stroke-width="0.3" textLength="42.5" lengthAdjust="spacingAndGlyphs">0.4</text>
<line x1="108.1" y1="934.64" x2="117.6" y2="934.64" stroke="#000" stroke-width="2.6" stroke-linecap="butt"/>
<text x="65" y="942.64" font-family="'Liberation Sans', sans-serif" font-size="23" font-weight="bold" text-anchor="start" fill="#000" stroke="#000" stroke-width="0.3" textLength="42.5" lengthAdjust="spacingAndGlyphs">0.3</text>
<line x1="108.1" y1="969.3599999999999" x2="117.6" y2="969.3599999999999" stroke="#000" stroke-width="2.6" stroke-linecap="butt"/>
<text x="65" y="977.3599999999999" font-family="'Liberation Sans', sans-serif" font-size="23" font-weight="bold" text-anchor="start" fill="#000" stroke="#000" stroke-width="0.3" textLength="42.5" lengthAdjust="spacingAndGlyphs">0.2</text>
<line x1="108.1" y1="1004.0799999999999" x2="117.6" y2="1004.0799999999999" stroke="#000" stroke-width="2.6" stroke-linecap="butt"/>
<text x="65" y="1012.0799999999999" font-family="'Liberation Sans', sans-serif" font-size="23" font-weight="bold" text-anchor="start" fill="#000" stroke="#000" stroke-width="0.3" textLength="42.5" lengthAdjust="spacingAndGlyphs">0.1</text>
<line x1="108.1" y1="1038.8" x2="117.6" y2="1038.8" stroke="#000" stroke-width="2.6" stroke-linecap="butt"/>
<text x="65" y="1046.8" font-family="'Liberation Sans', sans-serif" font-size="23" font-weight="bold" text-anchor="start" fill="#000" stroke="#000" stroke-width="0.3" textLength="42.5" lengthAdjust="spacingAndGlyphs">0.0</text>
<rect x="127.0" y="904.7808" width="19" height="134.01919999999996" fill="#000" rx="1.5"/>
<line x1="136.5" y1="899.5727999999999" x2="136.5" y2="906.7808" stroke="#000" stroke-width="3" stroke-linecap="butt"/>
<line x1="132.0" y1="899.5727999999999" x2="141.0" y2="899.5727999999999" stroke="#000" stroke-width="2.7" stroke-linecap="round"/>
<rect x="150.0" y="903.7392" width="19" height="135.06079999999997" fill="#ff0000" rx="1.5"/>
<line x1="159.5" y1="898.8783999999999" x2="159.5" y2="905.7392" stroke="#ff0000" stroke-width="3" stroke-linecap="butt"/>
<line x1="155.0" y1="898.8783999999999" x2="164.0" y2="898.8783999999999" stroke="#ff0000" stroke-width="2.7" stroke-linecap="round"/>
<line x1="148.0" y1="1038.8" x2="148.0" y2="1045.3" stroke="#000" stroke-width="3" stroke-linecap="butt"/>
<rect x="187.85" y="903.7392" width="19" height="135.06079999999997" fill="#000" rx="1.5"/>
<line x1="197.35" y1="899.5727999999999" x2="197.35" y2="905.7392" stroke="#000" stroke-width="3" stroke-linecap="butt"/>
<line x1="192.85" y1="899.5727999999999" x2="201.85" y2="899.5727999999999" stroke="#000" stroke-width="2.7" stroke-linecap="round"/>
<rect x="210.85" y="907.5583999999999" width="19" height="131.24160000000006" fill="#ff0000" rx="1.5"/>
<line x1="220.35" y1="894.712" x2="220.35" y2="909.5583999999999" stroke="#ff0000" stroke-width="3" stroke-linecap="butt"/>
<line x1="215.85" y1="894.712" x2="224.85" y2="894.712" stroke="#ff0000" stroke-width="2.7" stroke-linecap="round"/>
<line x1="208.85" y1="1038.8" x2="208.85" y2="1045.3" stroke="#000" stroke-width="3" stroke-linecap="butt"/>
<rect x="248.7" y="904.7808" width="19" height="134.01919999999996" fill="#000" rx="1.5"/>
<line x1="258.2" y1="900.2672" x2="258.2" y2="906.7808" stroke="#000" stroke-width="3" stroke-linecap="butt"/>
<line x1="253.7" y1="900.2672" x2="262.7" y2="900.2672" stroke="#000" stroke-width="2.7" stroke-linecap="round"/>
<rect x="271.7" y="923.1823999999999" width="19" height="115.61760000000004" fill="#ff0000" rx="1.5"/>
<line x1="281.2" y1="919.016" x2="281.2" y2="925.1823999999999" stroke="#ff0000" stroke-width="3" stroke-linecap="butt"/>
<line x1="276.7" y1="919.016" x2="285.7" y2="919.016" stroke="#ff0000" stroke-width="2.7" stroke-linecap="round"/>
<line x1="269.7" y1="1038.8" x2="269.7" y2="1045.3" stroke="#000" stroke-width="3" stroke-linecap="butt"/>
<rect x="309.55" y="898.184" width="19" height="140.61599999999999" fill="#000" rx="1.5"/>
<line x1="319.05" y1="893.3231999999999" x2="319.05" y2="900.184" stroke="#000" stroke-width="3" stroke-linecap="butt"/>
<line x1="314.55" y1="893.3231999999999" x2="323.55" y2="893.3231999999999" stroke="#000" stroke-width="2.7" stroke-linecap="round"/>
<rect x="332.55" y="946.4448" width="19" height="92.35519999999997" fill="#ff0000" rx="1.5"/>
<line x1="342.05" y1="943.6672" x2="342.05" y2="948.4448" stroke="#ff0000" stroke-width="3" stroke-linecap="butt"/>
<line x1="337.55" y1="943.6672" x2="346.55" y2="943.6672" stroke="#ff0000" stroke-width="2.7" stroke-linecap="round"/>
<line x1="330.55" y1="1038.8" x2="330.55" y2="1045.3" stroke="#000" stroke-width="3" stroke-linecap="butt"/>
<rect x="370.4" y="903.0447999999999" width="19" height="135.75520000000006" fill="#000" rx="1.5"/>
<line x1="379.9" y1="899.2256" x2="379.9" y2="905.0447999999999" stroke="#000" stroke-width="3" stroke-linecap="butt"/>
<line x1="375.4" y1="899.2256" x2="384.4" y2="899.2256" stroke="#000" stroke-width="2.7" stroke-linecap="round"/>
<rect x="393.4" y="991.928" width="19" height="46.87199999999996" fill="#ff0000" rx="1.5"/>
<line x1="402.9" y1="987.4144" x2="402.9" y2="993.928" stroke="#ff0000" stroke-width="3" stroke-linecap="butt"/>
<line x1="398.4" y1="987.4144" x2="407.4" y2="987.4144" stroke="#ff0000" stroke-width="2.7" stroke-linecap="round"/>
<line x1="391.4" y1="1038.8" x2="391.4" y2="1045.3" stroke="#000" stroke-width="3" stroke-linecap="butt"/>
<rect x="431.25" y="901.656" width="19" height="137.144" fill="#000" rx="1.5"/>
<line x1="440.75" y1="895.7536" x2="440.75" y2="903.656" stroke="#000" stroke-width="3" stroke-linecap="butt"/>
<line x1="436.25" y1="895.7536" x2="445.25" y2="895.7536" stroke="#000" stroke-width="2.7" stroke-linecap="round"/>
<rect x="454.25" y="1005.1216" width="19" height="33.67840000000001" fill="#ff0000" rx="1.5"/>
<line x1="463.75" y1="1003.0383999999999" x2="463.75" y2="1007.1216" stroke="#ff0000" stroke-width="3" stroke-linecap="butt"/>
<line x1="459.25" y1="1003.0383999999999" x2="468.25" y2="1003.0383999999999" stroke="#ff0000" stroke-width="2.7" stroke-linecap="round"/>
<line x1="452.25" y1="1038.8" x2="452.25" y2="1045.3" stroke="#000" stroke-width="3" stroke-linecap="butt"/>
<text x="142.5" y="1106.3" font-family="'Liberation Sans', sans-serif" font-size="21" font-weight="bold" text-anchor="start" fill="#000" stroke="#000" stroke-width="0.3" textLength="220" lengthAdjust="spacingAndGlyphs">Rv1016c(ug/ml)</text>
<text x="0" y="0" font-family="'Liberation Sans', sans-serif" font-size="21" font-weight="bold" text-anchor="end" fill="#000" stroke="#000" stroke-width="0.6" transform="translate(154.0,1059) scale(1.38,1) rotate(-45)">0</text>
<text x="0" y="0" font-family="'Liberation Sans', sans-serif" font-size="21" font-weight="bold" text-anchor="end" fill="#000" stroke="#000" stroke-width="0.6" transform="translate(214.85,1059) scale(1.38,1) rotate(-45)">1</text>
<text x="0" y="0" font-family="'Liberation Sans', sans-serif" font-size="21" font-weight="bold" text-anchor="end" fill="#000" stroke="#000" stroke-width="0.6" transform="translate(275.7,1059) scale(1.38,1) rotate(-45)">10</text>
<text x="0" y="0" font-family="'Liberation Sans', sans-serif" font-size="21" font-weight="bold" text-anchor="end" fill="#000" stroke="#000" stroke-width="0.6" transform="translate(336.55,1059) scale(1.38,1) rotate(-45)">50</text>
<text x="0" y="0" font-family="'Liberation Sans', sans-serif" font-size="21" font-weight="bold" text-anchor="end" fill="#000" stroke="#000" stroke-width="0.6" transform="translate(397.4,1059) scale(1.38,1) rotate(-45)">100</text>
<text x="0" y="0" font-family="'Liberation Sans', sans-serif" font-size="21" font-weight="bold" text-anchor="end" fill="#000" stroke="#000" stroke-width="0.6" transform="translate(458.25,1059) scale(1.38,1) rotate(-45)">300</text>
<text x="561" y="433.3" font-family="'Liberation Sans', sans-serif" font-size="34" font-weight="bold" text-anchor="start" fill="#000">D</text>
<line x1="594" y1="449" x2="624" y2="449" stroke="#000" stroke-width="3" stroke-linecap="butt"/>
<ellipse cx="608.8" cy="449" rx="8" ry="5.6" fill="#000"/>
<text x="636" y="456.5" font-family="'Liberation Sans', sans-serif" font-size="22" font-weight="normal" text-anchor="start" fill="#000" textLength="131" lengthAdjust="spacingAndGlyphs">Ctrl buffer</text>
<line x1="600" y1="493" x2="629.5" y2="493" stroke="#ff0000" stroke-width="3" stroke-linecap="butt"/>
<rect x="607.6" y="488" width="14.4" height="11" fill="#ff0000" rx="0"/>
<text x="643.5" y="500.8" font-family="'Liberation Sans', sans-serif" font-size="22" font-weight="normal" text-anchor="start" fill="#000" textLength="118" lengthAdjust="spacingAndGlyphs">Rv1016c</text>
<text x="809.2" y="472.4" font-family="'Liberation Serif', serif" font-size="26" font-weight="bold" text-anchor="start" fill="#000" stroke="#000" stroke-width="0.35">THP-1</text>
<line x1="571.8" y1="515.3" x2="571.8" y2="704.9" stroke="#000" stroke-width="3.5" stroke-linecap="butt"/>
<line x1="564" y1="703.4" x2="936.5" y2="703.4" stroke="#000" stroke-width="3.4" stroke-linecap="butt"/>
<line x1="562.3" y1="516.5" x2="571.8" y2="516.5" stroke="#000" stroke-width="2.5" stroke-linecap="butt"/>
<text x="519.5" y="524.8" font-family="'Liberation Sans', sans-serif" font-size="23.5" font-weight="bold" text-anchor="start" fill="#000" stroke="#000" stroke-width="0.3" textLength="41.5" lengthAdjust="spacingAndGlyphs">0.6</text>
<line x1="562.3" y1="547.65" x2="571.8" y2="547.65" stroke="#000" stroke-width="2.5" stroke-linecap="butt"/>
<text x="519.5" y="555.9499999999999" font-family="'Liberation Sans', sans-serif" font-size="23.5" font-weight="bold" text-anchor="start" fill="#000" stroke="#000" stroke-width="0.3" textLength="41.5" lengthAdjust="spacingAndGlyphs">0.5</text>
<line x1="562.3" y1="578.8" x2="571.8" y2="578.8" stroke="#000" stroke-width="2.5" stroke-linecap="butt"/>
<text x="519.5" y="587.0999999999999" font-family="'Liberation Sans', sans-serif" font-size="23.5" font-weight="bold" text-anchor="start" fill="#000" stroke="#000" stroke-width="0.3" textLength="41.5" lengthAdjust="spacingAndGlyphs">0.4</text>
<line x1="562.3" y1="609.9499999999999" x2="571.8" y2="609.9499999999999" stroke="#000" stroke-width="2.5" stroke-linecap="butt"/>
<text x="519.5" y="618.2499999999999" font-family="'Liberation Sans', sans-serif" font-size="23.5" font-weight="bold" text-anchor="start" fill="#000" stroke="#000" stroke-width="0.3" textLength="41.5" lengthAdjust="spacingAndGlyphs">0.3</text>
<line x1="562.3" y1="641.1" x2="571.8" y2="641.1" stroke="#000" stroke-width="2.5" stroke-linecap="butt"/>
<text x="519.5" y="649.4" font-family="'Liberation Sans', sans-serif" font-size="23.5" font-weight="bold" text-anchor="start" fill="#000" stroke="#000" stroke-width="0.3" textLength="41.5" lengthAdjust="spacingAndGlyphs">0.2</text>
<line x1="562.3" y1="672.25" x2="571.8" y2="672.25" stroke="#000" stroke-width="2.5" stroke-linecap="butt"/>
<text x="519.5" y="680.55" font-family="'Liberation Sans', sans-serif" font-size="23.5" font-weight="bold" text-anchor="start" fill="#000" stroke="#000" stroke-width="0.3" textLength="41.5" lengthAdjust="spacingAndGlyphs">0.1</text>
<line x1="562.3" y1="703.4" x2="571.8" y2="703.4" stroke="#000" stroke-width="2.5" stroke-linecap="butt"/>
<text x="519.5" y="711.6999999999999" font-family="'Liberation Sans', sans-serif" font-size="23.5" font-weight="bold" text-anchor="start" fill="#000" stroke="#000" stroke-width="0.3" textLength="41.5" lengthAdjust="spacingAndGlyphs">0.0</text>
<line x1="596.5" y1="703.4" x2="596.5" y2="710.4" stroke="#000" stroke-width="3" stroke-linecap="butt"/>
<line x1="648.93" y1="703.4" x2="648.93" y2="710.4" stroke="#000" stroke-width="3" stroke-linecap="butt"/>
<line x1="701.36" y1="703.4" x2="701.36" y2="710.4" stroke="#000" stroke-width="3" stroke-linecap="butt"/>
<line x1="753.79" y1="703.4" x2="753.79" y2="710.4" stroke="#000" stroke-width="3" stroke-linecap="butt"/>
<line x1="806.22" y1="703.4" x2="806.22" y2="710.4" stroke="#000" stroke-width="3" stroke-linecap="butt"/>
<line x1="858.65" y1="703.4" x2="858.65" y2="710.4" stroke="#000" stroke-width="3" stroke-linecap="butt"/>
<line x1="911.0799999999999" y1="703.4" x2="911.0799999999999" y2="710.4" stroke="#000" stroke-width="3" stroke-linecap="butt"/>
<polyline points="596.5,662.6 648.9,673.2 701.4,688.4 753.8,682.8 806.2,676.6 858.6,647.3 911.1,617.7" fill="none" stroke="#ff0000" stroke-width="3"/>
<line x1="596.5" y1="660.1015" x2="596.5" y2="665.0854999999999" stroke="#ff0000" stroke-width="2.5" stroke-linecap="butt"/>
<line x1="588.5" y1="660.1015" x2="604.5" y2="660.1015" stroke="#ff0000" stroke-width="2.9" stroke-linecap="round"/>
<line x1="588.5" y1="665.0854999999999" x2="604.5" y2="665.0854999999999" stroke="#ff0000" stroke-width="2.9" stroke-linecap="round"/>
<rect x="589.0" y="657.0935" width="15" height="11" fill="#ff0000" rx="0"/>
<line x1="648.93" y1="670.6925" x2="648.93" y2="675.6764999999999" stroke="#ff0000" stroke-width="2.5" stroke-linecap="butt"/>
<line x1="640.93" y1="670.6925" x2="656.93" y2="670.6925" stroke="#ff0000" stroke-width="2.9" stroke-linecap="round"/>
<line x1="640.93" y1="675.6764999999999" x2="656.93" y2="675.6764999999999" stroke="#ff0000" stroke-width="2.9" stroke-linecap="round"/>
<rect x="641.43" y="667.6845" width="15" height="11" fill="#ff0000" rx="0"/>
<line x1="701.36" y1="685.333" x2="701.36" y2="691.563" stroke="#ff0000" stroke-width="2.5" stroke-linecap="butt"/>
<line x1="693.36" y1="685.333" x2="709.36" y2="685.333" stroke="#ff0000" stroke-width="2.9" stroke-linecap="round"/>
<line x1="693.36" y1="691.563" x2="709.36" y2="691.563" stroke="#ff0000" stroke-width="2.9" stroke-linecap="round"/>
<rect x="693.86" y="682.948" width="15" height="11" fill="#ff0000" rx="0"/>
<line x1="753.79" y1="679.726" x2="753.79" y2="685.956" stroke="#ff0000" stroke-width="2.5" stroke-linecap="butt"/>
<line x1="745.79" y1="679.726" x2="761.79" y2="679.726" stroke="#ff0000" stroke-width="2.9" stroke-linecap="round"/>
<line x1="745.79" y1="685.956" x2="761.79" y2="685.956" stroke="#ff0000" stroke-width="2.9" stroke-linecap="round"/>
<rect x="746.29" y="677.341" width="15" height="11" fill="#ff0000" rx="0"/>
<line x1="806.22" y1="674.119" x2="806.22" y2="679.103" stroke="#ff0000" stroke-width="2.5" stroke-linecap="butt"/>
<line x1="798.22" y1="674.119" x2="814.22" y2="674.119" stroke="#ff0000" stroke-width="2.9" stroke-linecap="round"/>
<line x1="798.22" y1="679.103" x2="814.22" y2="679.103" stroke="#ff0000" stroke-width="2.9" stroke-linecap="round"/>
<rect x="798.72" y="671.111" width="15" height="11" fill="#ff0000" rx="0"/>
<line x1="858.65" y1="637.9849999999999" x2="858.65" y2="656.675" stroke="#ff0000" stroke-width="2.5" stroke-linecap="butt"/>
<line x1="850.65" y1="637.9849999999999" x2="866.65" y2="637.9849999999999" stroke="#ff0000" stroke-width="2.9" stroke-linecap="round"/>
<line x1="850.65" y1="656.675" x2="866.65" y2="656.675" stroke="#ff0000" stroke-width="2.9" stroke-linecap="round"/>
<rect x="851.15" y="641.8299999999999" width="15" height="11" fill="#ff0000" rx="0"/>
<line x1="911.0799999999999" y1="608.704" x2="911.0799999999999" y2="626.771" stroke="#ff0000" stroke-width="2.5" stroke-linecap="butt"/>
<line x1="903.0799999999999" y1="608.704" x2="919.0799999999999" y2="608.704" stroke="#ff0000" stroke-width="2.9" stroke-linecap="round"/>
<line x1="903.0799999999999" y1="626.771" x2="919.0799999999999" y2="626.771" stroke="#ff0000" stroke-width="2.9" stroke-linecap="round"/>
<rect x="903.5799999999999" y="612.2375" width="15" height="11" fill="#ff0000" rx="0"/>
<polyline points="596.5,664.8 648.9,666.0 701.4,656.4 753.8,647.3 806.2,603.7 858.6,559.8 911.1,548.9" fill="none" stroke="#000" stroke-width="3"/>
<line x1="596.5" y1="662.905" x2="596.5" y2="666.643" stroke="#000" stroke-width="2.5" stroke-linecap="butt"/>
<line x1="588.5" y1="662.905" x2="604.5" y2="662.905" stroke="#000" stroke-width="2.9" stroke-linecap="round"/>
<line x1="588.5" y1="666.643" x2="604.5" y2="666.643" stroke="#000" stroke-width="2.9" stroke-linecap="round"/>
<ellipse cx="596.5" cy="664.774" rx="8.5" ry="6" fill="#000"/>
<line x1="648.93" y1="662.2819999999999" x2="648.93" y2="669.758" stroke="#000" stroke-width="2.5" stroke-linecap="butt"/>
<line x1="640.93" y1="662.2819999999999" x2="656.93" y2="662.2819999999999" stroke="#000" stroke-width="2.9" stroke-linecap="round"/>
<line x1="640.93" y1="669.758" x2="656.93" y2="669.758" stroke="#000" stroke-width="2.9" stroke-linecap="round"/>
<ellipse cx="648.93" cy="666.02" rx="8.5" ry="6" fill="#000"/>
<line x1="701.36" y1="653.8715" x2="701.36" y2="658.8554999999999" stroke="#000" stroke-width="2.5" stroke-linecap="butt"/>
<line x1="693.36" y1="653.8715" x2="709.36" y2="653.8715" stroke="#000" stroke-width="2.9" stroke-linecap="round"/>
<line x1="693.36" y1="658.8554999999999" x2="709.36" y2="658.8554999999999" stroke="#000" stroke-width="2.9" stroke-linecap="round"/>
<ellipse cx="701.36" cy="656.3634999999999" rx="8.5" ry="6" fill="#000"/>
<line x1="753.79" y1="644.838" x2="753.79" y2="649.8219999999999" stroke="#000" stroke-width="2.5" stroke-linecap="butt"/>
<line x1="745.79" y1="644.838" x2="761.79" y2="644.838" stroke="#000" stroke-width="2.9" stroke-linecap="round"/>
<line x1="745.79" y1="649.8219999999999" x2="761.79" y2="649.8219999999999" stroke="#000" stroke-width="2.9" stroke-linecap="round"/>
<ellipse cx="753.79" cy="647.3299999999999" rx="8.5" ry="6" fill="#000"/>
<line x1="806.22" y1="599.982" x2="806.22" y2="607.4580000000001" stroke="#000" stroke-width="2.5" stroke-linecap="butt"/>
<line x1="798.22" y1="599.982" x2="814.22" y2="599.982" stroke="#000" stroke-width="2.9" stroke-linecap="round"/>
<line x1="798.22" y1="607.4580000000001" x2="814.22" y2="607.4580000000001" stroke="#000" stroke-width="2.9" stroke-linecap="round"/>
<ellipse cx="806.22" cy="603.72" rx="8.5" ry="6" fill="#000"/>
<line x1="858.65" y1="556.0604999999999" x2="858.65" y2="563.5365" stroke="#000" stroke-width="2.5" stroke-linecap="butt"/>
<line x1="850.65" y1="556.0604999999999" x2="866.65" y2="556.0604999999999" stroke="#000" stroke-width="2.9" stroke-linecap="round"/>
<line x1="850.65" y1="563.5365" x2="866.65" y2="563.5365" stroke="#000" stroke-width="2.9" stroke-linecap="round"/>
<ellipse cx="858.65" cy="559.7985" rx="8.5" ry="6" fill="#000"/>
<line x1="911.0799999999999" y1="541.42" x2="911.0799999999999" y2="556.372" stroke="#000" stroke-width="2.5" stroke-linecap="butt"/>
<line x1="903.0799999999999" y1="541.42" x2="919.0799999999999" y2="541.42" stroke="#000" stroke-width="2.9" stroke-linecap="round"/>
<line x1="903.0799999999999" y1="556.372" x2="919.0799999999999" y2="556.372" stroke="#000" stroke-width="2.9" stroke-linecap="round"/>
<ellipse cx="911.0799999999999" cy="548.896" rx="8.5" ry="6" fill="#000"/>
<text x="0" y="0" font-family="'Liberation Sans', sans-serif" font-size="20" font-weight="bold" text-anchor="end" fill="#000" stroke="#000" stroke-width="0.6" transform="translate(602.0,727) scale(1.42,1) rotate(-45)">0</text>
<text x="0" y="0" font-family="'Liberation Sans', sans-serif" font-size="20" font-weight="bold" text-anchor="end" fill="#000" stroke="#000" stroke-width="0.6" transform="translate(654.43,727) scale(1.42,1) rotate(-45)">10</text>
<text x="0" y="0" font-family="'Liberation Sans', sans-serif" font-size="20" font-weight="bold" text-anchor="end" fill="#000" stroke="#000" stroke-width="0.6" transform="translate(706.86,727) scale(1.42,1) rotate(-45)">75</text>
<text x="0" y="0" font-family="'Liberation Sans', sans-serif" font-size="20" font-weight="bold" text-anchor="end" fill="#000" stroke="#000" stroke-width="0.6" transform="translate(759.29,727) scale(1.42,1) rotate(-45)">300</text>
<text x="0" y="0" font-family="'Liberation Sans', sans-serif" font-size="20" font-weight="bold" text-anchor="end" fill="#000" stroke="#000" stroke-width="0.6" transform="translate(811.72,727) scale(1.42,1) rotate(-45)">800</text>
<text x="0" y="0" font-family="'Liberation Sans', sans-serif" font-size="20" font-weight="bold" text-anchor="end" fill="#000" stroke="#000" stroke-width="0.6" transform="translate(864.15,727) scale(1.42,1) rotate(-45)">2000</text>
<text x="0" y="0" font-family="'Liberation Sans', sans-serif" font-size="20" font-weight="bold" text-anchor="end" fill="#000" stroke="#000" stroke-width="0.6" transform="translate(916.5799999999999,727) scale(1.42,1) rotate(-45)">5000</text>
<text x="654" y="778.8" font-family="'Liberation Sans', sans-serif" font-size="21" font-weight="bold" text-anchor="start" fill="#000" stroke="#000" stroke-width="0.3" textLength="147" lengthAdjust="spacingAndGlyphs">OVA(ng/ml)</text>
<text x="539.5" y="823" font-family="'Liberation Sans', sans-serif" font-size="34" font-weight="bold" text-anchor="start" fill="#000">F</text>
<line x1="627.5" y1="819.6" x2="656.8" y2="819.6" stroke="#000" stroke-width="3" stroke-linecap="butt"/>
<ellipse cx="642.2" cy="819.6" rx="6.8" ry="6" fill="#000"/>
<text x="670" y="828.6" font-family="'Liberation Sans', sans-serif" font-size="23" font-weight="normal" text-anchor="start" fill="#000" textLength="131" lengthAdjust="spacingAndGlyphs">Ctrl buffer</text>
<line x1="633" y1="868.7" x2="662.2" y2="868.7" stroke="#ff0000" stroke-width="3" stroke-linecap="butt"/>
<rect x="640.6" y="862.8" width="14.4" height="12.4" fill="#ff0000" rx="0"/>
<text x="676" y="877.6" font-family="'Liberation Sans', sans-serif" font-size="23" font-weight="normal" text-anchor="start" fill="#000" textLength="118" lengthAdjust="spacingAndGlyphs">Rv1016c</text>
<text x="872.3" y="834.5" font-family="'Liberation Serif', serif" font-size="26.3" font-weight="bold" text-anchor="start" fill="#000" stroke="#000" stroke-width="0.35">MDM</text>
<line x1="574.9" y1="871.4" x2="574.9" y2="1082.8" stroke="#000" stroke-width="3.5" stroke-linecap="butt"/>
<line x1="567.2" y1="1081.3" x2="942.8" y2="1081.3" stroke="#000" stroke-width="3.4" stroke-linecap="butt"/>
<line x1="565.4" y1="872.5999999999999" x2="574.9" y2="872.5999999999999" stroke="#000" stroke-width="2.5" stroke-linecap="butt"/>
<text x="523" y="881.8999999999999" font-family="'Liberation Sans', sans-serif" font-size="25" font-weight="bold" text-anchor="start" fill="#000" stroke="#000" stroke-width="0.3" textLength="42" lengthAdjust="spacingAndGlyphs">0.5</text>
<line x1="565.4" y1="914.3399999999999" x2="574.9" y2="914.3399999999999" stroke="#000" stroke-width="2.5" stroke-linecap="butt"/>
<text x="523" y="923.6399999999999" font-family="'Liberation Sans', sans-serif" font-size="25" font-weight="bold" text-anchor="start" fill="#000" stroke="#000" stroke-width="0.3" textLength="42" lengthAdjust="spacingAndGlyphs">0.4</text>
<line x1="565.4" y1="956.0799999999999" x2="574.9" y2="956.0799999999999" stroke="#000" stroke-width="2.5" stroke-linecap="butt"/>
<text x="523" y="965.3799999999999" font-family="'Liberation Sans', sans-serif" font-size="25" font-weight="bold" text-anchor="start" fill="#000" stroke="#000" stroke-width="0.3" textLength="42" lengthAdjust="spacingAndGlyphs">0.3</text>
<line x1="565.4" y1="997.8199999999999" x2="574.9" y2="997.8199999999999" stroke="#000" stroke-width="2.5" stroke-linecap="butt"/>
<text x="523" y="1007.1199999999999" font-family="'Liberation Sans', sans-serif" font-size="25" font-weight="bold" text-anchor="start" fill="#000" stroke="#000" stroke-width="0.3" textLength="42" lengthAdjust="spacingAndGlyphs">0.2</text>
<line x1="565.4" y1="1039.56" x2="574.9" y2="1039.56" stroke="#000" stroke-width="2.5" stroke-linecap="butt"/>
<text x="523" y="1048.86" font-family="'Liberation Sans', sans-serif" font-size="25" font-weight="bold" text-anchor="start" fill="#000" stroke="#000" stroke-width="0.3" textLength="42" lengthAdjust="spacingAndGlyphs">0.1</text>
<line x1="565.4" y1="1081.3" x2="574.9" y2="1081.3" stroke="#000" stroke-width="2.5" stroke-linecap="butt"/>
<text x="523" y="1090.6" font-family="'Liberation Sans', sans-serif" font-size="25" font-weight="bold" text-anchor="start" fill="#000" stroke="#000" stroke-width="0.3" textLength="42" lengthAdjust="spacingAndGlyphs">0.0</text>
<line x1="600.0" y1="1081.3" x2="600.0" y2="1088.3" stroke="#000" stroke-width="3" stroke-linecap="butt"/>
<line x1="652.48" y1="1081.3" x2="652.48" y2="1088.3" stroke="#000" stroke-width="3" stroke-linecap="butt"/>
<line x1="704.96" y1="1081.3" x2="704.96" y2="1088.3" stroke="#000" stroke-width="3" stroke-linecap="butt"/>
<line x1="757.44" y1="1081.3" x2="757.44" y2="1088.3" stroke="#000" stroke-width="3" stroke-linecap="butt"/>
<line x1="809.92" y1="1081.3" x2="809.92" y2="1088.3" stroke="#000" stroke-width="3" stroke-linecap="butt"/>
<line x1="862.4" y1="1081.3" x2="862.4" y2="1088.3" stroke="#000" stroke-width="3" stroke-linecap="butt"/>
<line x1="914.88" y1="1081.3" x2="914.88" y2="1088.3" stroke="#000" stroke-width="3" stroke-linecap="butt"/>
<polyline points="600.0,1055.4 652.5,1060.0 705.0,1078.8 757.4,1081.3 809.9,1062.5 862.4,1026.6 914.9,1011.6" fill="none" stroke="#ff0000" stroke-width="3"/>
<line x1="600.0" y1="1052.082" x2="600.0" y2="1058.7604" stroke="#ff0000" stroke-width="2.5" stroke-linecap="butt"/>
<line x1="592.0" y1="1052.082" x2="608.0" y2="1052.082" stroke="#ff0000" stroke-width="2.9" stroke-linecap="round"/>
<line x1="592.0" y1="1058.7604" x2="608.0" y2="1058.7604" stroke="#ff0000" stroke-width="2.9" stroke-linecap="round"/>
<rect x="592.5" y="1049.9212" width="15" height="11" fill="#ff0000" rx="0"/>
<line x1="652.48" y1="1055.8386" x2="652.48" y2="1064.1866" stroke="#ff0000" stroke-width="2.5" stroke-linecap="butt"/>
<line x1="644.48" y1="1055.8386" x2="660.48" y2="1055.8386" stroke="#ff0000" stroke-width="2.9" stroke-linecap="round"/>
<line x1="644.48" y1="1064.1866" x2="660.48" y2="1064.1866" stroke="#ff0000" stroke-width="2.9" stroke-linecap="round"/>
<rect x="644.98" y="1054.5126" width="15" height="11" fill="#ff0000" rx="0"/>
<line x1="704.96" y1="1074.6216" x2="704.96" y2="1082.9696" stroke="#ff0000" stroke-width="2.5" stroke-linecap="butt"/>
<line x1="696.96" y1="1074.6216" x2="712.96" y2="1074.6216" stroke="#ff0000" stroke-width="2.9" stroke-linecap="round"/>
<line x1="696.96" y1="1082.9696" x2="712.96" y2="1082.9696" stroke="#ff0000" stroke-width="2.9" stroke-linecap="round"/>
<rect x="697.46" y="1073.2956" width="15" height="11" fill="#ff0000" rx="0"/>
<line x1="757.44" y1="1077.9608" x2="757.44" y2="1084.6391999999998" stroke="#ff0000" stroke-width="2.5" stroke-linecap="butt"/>
<line x1="749.44" y1="1077.9608" x2="765.44" y2="1077.9608" stroke="#ff0000" stroke-width="2.9" stroke-linecap="round"/>
<line x1="749.44" y1="1084.6391999999998" x2="765.44" y2="1084.6391999999998" stroke="#ff0000" stroke-width="2.9" stroke-linecap="round"/>
<rect x="749.94" y="1075.8" width="15" height="11" fill="#ff0000" rx="0"/>
<line x1="809.92" y1="1058.343" x2="809.92" y2="1066.691" stroke="#ff0000" stroke-width="2.5" stroke-linecap="butt"/>
<line x1="801.92" y1="1058.343" x2="817.92" y2="1058.343" stroke="#ff0000" stroke-width="2.9" stroke-linecap="round"/>
<line x1="801.92" y1="1066.691" x2="817.92" y2="1066.691" stroke="#ff0000" stroke-width="2.9" stroke-linecap="round"/>
<rect x="802.42" y="1057.017" width="15" height="11" fill="#ff0000" rx="0"/>
<line x1="862.4" y1="1021.6118" x2="862.4" y2="1031.6294" stroke="#ff0000" stroke-width="2.5" stroke-linecap="butt"/>
<line x1="854.4" y1="1021.6118" x2="870.4" y2="1021.6118" stroke="#ff0000" stroke-width="2.9" stroke-linecap="round"/>
<line x1="854.4" y1="1031.6294" x2="870.4" y2="1031.6294" stroke="#ff0000" stroke-width="2.9" stroke-linecap="round"/>
<rect x="854.9" y="1021.1206" width="15" height="11" fill="#ff0000" rx="0"/>
<line x1="914.88" y1="1006.5854" x2="914.88" y2="1016.603" stroke="#ff0000" stroke-width="2.5" stroke-linecap="butt"/>
<line x1="906.88" y1="1006.5854" x2="922.88" y2="1006.5854" stroke="#ff0000" stroke-width="2.9" stroke-linecap="round"/>
<line x1="906.88" y1="1016.603" x2="922.88" y2="1016.603" stroke="#ff0000" stroke-width="2.9" stroke-linecap="round"/>
<rect x="907.38" y="1006.0942" width="15" height="11" fill="#ff0000" rx="0"/>
<polyline points="600.0,1052.5 652.5,1051.7 705.0,1042.1 757.4,1019.5 809.9,952.3 862.4,904.3 914.9,913.1" fill="none" stroke="#000" stroke-width="3"/>
<line x1="600.0" y1="1049.1602" x2="600.0" y2="1055.8385999999998" stroke="#000" stroke-width="2.5" stroke-linecap="butt"/>
<line x1="592.0" y1="1049.1602" x2="608.0" y2="1049.1602" stroke="#000" stroke-width="2.9" stroke-linecap="round"/>
<line x1="592.0" y1="1055.8385999999998" x2="608.0" y2="1055.8385999999998" stroke="#000" stroke-width="2.9" stroke-linecap="round"/>
<ellipse cx="600.0" cy="1052.4994" rx="8.5" ry="6" fill="#000"/>
<line x1="652.48" y1="1048.3254000000002" x2="652.48" y2="1055.0038" stroke="#000" stroke-width="2.5" stroke-linecap="butt"/>
<line x1="644.48" y1="1048.3254000000002" x2="660.48" y2="1048.3254000000002" stroke="#000" stroke-width="2.9" stroke-linecap="round"/>
<line x1="644.48" y1="1055.0038" x2="660.48" y2="1055.0038" stroke="#000" stroke-width="2.9" stroke-linecap="round"/>
<ellipse cx="652.48" cy="1051.6646" rx="8.5" ry="6" fill="#000"/>
<line x1="704.96" y1="1037.8904" x2="704.96" y2="1046.2384" stroke="#000" stroke-width="2.5" stroke-linecap="butt"/>
<line x1="696.96" y1="1037.8904" x2="712.96" y2="1037.8904" stroke="#000" stroke-width="2.9" stroke-linecap="round"/>
<line x1="696.96" y1="1046.2384" x2="712.96" y2="1046.2384" stroke="#000" stroke-width="2.9" stroke-linecap="round"/>
<ellipse cx="704.96" cy="1042.0644" rx="8.5" ry="6" fill="#000"/>
<line x1="757.44" y1="1015.3507999999999" x2="757.44" y2="1023.6987999999999" stroke="#000" stroke-width="2.5" stroke-linecap="butt"/>
<line x1="749.44" y1="1015.3507999999999" x2="765.44" y2="1015.3507999999999" stroke="#000" stroke-width="2.9" stroke-linecap="round"/>
<line x1="749.44" y1="1023.6987999999999" x2="765.44" y2="1023.6987999999999" stroke="#000" stroke-width="2.9" stroke-linecap="round"/>
<ellipse cx="757.44" cy="1019.5247999999999" rx="8.5" ry="6" fill="#000"/>
<line x1="809.92" y1="947.3146" x2="809.92" y2="957.3322" stroke="#000" stroke-width="2.5" stroke-linecap="butt"/>
<line x1="801.92" y1="947.3146" x2="817.92" y2="947.3146" stroke="#000" stroke-width="2.9" stroke-linecap="round"/>
<line x1="801.92" y1="957.3322" x2="817.92" y2="957.3322" stroke="#000" stroke-width="2.9" stroke-linecap="round"/>
<ellipse cx="809.92" cy="952.3234" rx="8.5" ry="6" fill="#000"/>
<line x1="862.4" y1="897.644" x2="862.4" y2="911.0008" stroke="#000" stroke-width="2.5" stroke-linecap="butt"/>
<line x1="854.4" y1="897.644" x2="870.4" y2="897.644" stroke="#000" stroke-width="2.9" stroke-linecap="round"/>
<line x1="854.4" y1="911.0008" x2="870.4" y2="911.0008" stroke="#000" stroke-width="2.9" stroke-linecap="round"/>
<ellipse cx="862.4" cy="904.3224" rx="8.5" ry="6" fill="#000"/>
<line x1="914.88" y1="905.992" x2="914.88" y2="920.1836000000001" stroke="#000" stroke-width="2.5" stroke-linecap="butt"/>
<line x1="906.88" y1="905.992" x2="922.88" y2="905.992" stroke="#000" stroke-width="2.9" stroke-linecap="round"/>
<line x1="906.88" y1="920.1836000000001" x2="922.88" y2="920.1836000000001" stroke="#000" stroke-width="2.9" stroke-linecap="round"/>
<ellipse cx="914.88" cy="913.0878" rx="8.5" ry="6" fill="#000"/>
<text x="0" y="0" font-family="'Liberation Sans', sans-serif" font-size="24.5" font-weight="bold" text-anchor="end" fill="#000" stroke="#000" stroke-width="0.6" transform="translate(606.0,1107) scale(1.15,1) rotate(-45)">0</text>
<text x="0" y="0" font-family="'Liberation Sans', sans-serif" font-size="24.5" font-weight="bold" text-anchor="end" fill="#000" stroke="#000" stroke-width="0.6" transform="translate(658.48,1107) scale(1.15,1) rotate(-45)">10</text>
<text x="0" y="0" font-family="'Liberation Sans', sans-serif" font-size="24.5" font-weight="bold" text-anchor="end" fill="#000" stroke="#000" stroke-width="0.6" transform="translate(710.96,1107) scale(1.15,1) rotate(-45)">75</text>
<text x="0" y="0" font-family="'Liberation Sans', sans-serif" font-size="24.5" font-weight="bold" text-anchor="end" fill="#000" stroke="#000" stroke-width="0.6" transform="translate(763.44,1107) scale(1.15,1) rotate(-45)">300</text>
<text x="0" y="0" font-family="'Liberation Sans', sans-serif" font-size="24.5" font-weight="bold" text-anchor="end" fill="#000" stroke="#000" stroke-width="0.6" transform="translate(815.92,1107) scale(1.15,1) rotate(-45)">800</text>
<text x="0" y="0" font-family="'Liberation Sans', sans-serif" font-size="24.5" font-weight="bold" text-anchor="end" fill="#000" stroke="#000" stroke-width="0.6" transform="translate(868.4,1107) scale(1.15,1) rotate(-45)">2000</text>
<text x="0" y="0" font-family="'Liberation Sans', sans-serif" font-size="24.5" font-weight="bold" text-anchor="end" fill="#000" stroke="#000" stroke-width="0.6" transform="translate(920.88,1107) scale(1.15,1) rotate(-45)">5000</text>
<text x="656.5" y="1155.7" font-family="'Liberation Sans', sans-serif" font-size="22" font-weight="bold" text-anchor="start" fill="#000" stroke="#000" stroke-width="0.3" textLength="148" lengthAdjust="spacingAndGlyphs">OVA(ng/ml)</text>
<text x="0" y="0" font-family="'Liberation Serif', serif" font-size="27.1" font-weight="bold" text-anchor="middle" fill="#000" transform="translate(24,733.2) rotate(-90)">DOBW reponse (OD550-OD595)</text>
</svg></body></html>
